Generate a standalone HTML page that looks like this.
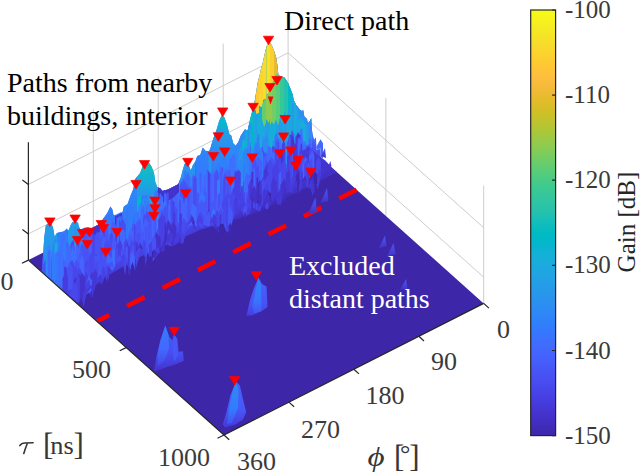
<!DOCTYPE html><html><head><meta charset="utf-8"><style>html,body{margin:0;padding:0;background:#fff;overflow:hidden}svg{display:block}text{font-family:"Liberation Serif",serif}</style></head><body>
<svg width="640" height="473" viewBox="0 0 640 473" font-family="Liberation Serif">
<defs><linearGradient id="gSpk" x1="0" y1="0" x2="0" y2="1"><stop offset="0" stop-color="#4a5af2"/><stop offset="1" stop-color="#4232c4"/></linearGradient><linearGradient id="cb" x1="0" y1="1" x2="0" y2="0"><stop offset="0.0000" stop-color="#3e26a8"/><stop offset="0.0159" stop-color="#402ab4"/><stop offset="0.0317" stop-color="#422ec0"/><stop offset="0.0476" stop-color="#4332cb"/><stop offset="0.0635" stop-color="#4537d5"/><stop offset="0.0794" stop-color="#463cde"/><stop offset="0.0952" stop-color="#4741e5"/><stop offset="0.1111" stop-color="#4747eb"/><stop offset="0.1270" stop-color="#484df0"/><stop offset="0.1429" stop-color="#4852f4"/><stop offset="0.1587" stop-color="#4758f8"/><stop offset="0.1746" stop-color="#465efb"/><stop offset="0.1905" stop-color="#4563fd"/><stop offset="0.2063" stop-color="#4269fe"/><stop offset="0.2222" stop-color="#3e6fff"/><stop offset="0.2381" stop-color="#3875fe"/><stop offset="0.2540" stop-color="#327cfc"/><stop offset="0.2698" stop-color="#2f81fa"/><stop offset="0.2857" stop-color="#2e87f7"/><stop offset="0.3016" stop-color="#2d8cf3"/><stop offset="0.3175" stop-color="#2b91ef"/><stop offset="0.3333" stop-color="#2797eb"/><stop offset="0.3492" stop-color="#259be8"/><stop offset="0.3651" stop-color="#23a0e5"/><stop offset="0.3810" stop-color="#20a5e3"/><stop offset="0.3968" stop-color="#1ca9df"/><stop offset="0.4127" stop-color="#18addb"/><stop offset="0.4286" stop-color="#12b1d6"/><stop offset="0.4444" stop-color="#08b5d0"/><stop offset="0.4603" stop-color="#01b8ca"/><stop offset="0.4762" stop-color="#02bac3"/><stop offset="0.4921" stop-color="#0bbdbd"/><stop offset="0.5079" stop-color="#19bfb6"/><stop offset="0.5238" stop-color="#24c1ae"/><stop offset="0.5397" stop-color="#2cc4a7"/><stop offset="0.5556" stop-color="#31c69f"/><stop offset="0.5714" stop-color="#37c897"/><stop offset="0.5873" stop-color="#3fca8e"/><stop offset="0.6032" stop-color="#4acb84"/><stop offset="0.6190" stop-color="#57cc7a"/><stop offset="0.6349" stop-color="#64cd6f"/><stop offset="0.6508" stop-color="#72cd64"/><stop offset="0.6667" stop-color="#81cc59"/><stop offset="0.6825" stop-color="#8fcb4e"/><stop offset="0.6984" stop-color="#9dc943"/><stop offset="0.7143" stop-color="#abc739"/><stop offset="0.7302" stop-color="#b9c431"/><stop offset="0.7460" stop-color="#c5c22a"/><stop offset="0.7619" stop-color="#d1bf27"/><stop offset="0.7778" stop-color="#dcbd29"/><stop offset="0.7937" stop-color="#e6bb2d"/><stop offset="0.8095" stop-color="#f0ba36"/><stop offset="0.8254" stop-color="#f8ba3d"/><stop offset="0.8413" stop-color="#febe3c"/><stop offset="0.8571" stop-color="#fec338"/><stop offset="0.8730" stop-color="#fec934"/><stop offset="0.8889" stop-color="#fccf30"/><stop offset="0.9048" stop-color="#fad62d"/><stop offset="0.9206" stop-color="#f7dc2a"/><stop offset="0.9365" stop-color="#f5e327"/><stop offset="0.9524" stop-color="#f5e924"/><stop offset="0.9683" stop-color="#f6ef20"/><stop offset="0.9841" stop-color="#f7f51b"/><stop offset="1.0000" stop-color="#f9fb15"/></linearGradient></defs>
<rect width="640" height="473" fill="#fff"/>
<path d="M28.4,184.4 L288.1,52.8 L483.7,227.7 M28.4,233.9 L288.1,102.3 L483.7,277.2 M288.1,128.5 L288.1,10.7 M223.2,161.4 L223.2,43.6 M158.2,194.3 L158.2,76.5 M93.3,227.2 L93.3,109.4 M385.9,215.9 L385.9,98.1 M483.7,303.4 L483.7,185.6" stroke="#cdcdcd" stroke-width="1" fill="none"/>
<polygon points="288.1,128.5 483.7,303.4 224.0,435.0 28.4,260.1" fill="#3e26a8"/>
<defs><linearGradient id="gBand" gradientUnits="userSpaceOnUse" x1="288.10" y1="128.50" x2="398.58" y2="346.52"><stop offset="0.0000" stop-color="#327cfc"/><stop offset="0.0500" stop-color="#4269fe"/><stop offset="0.1000" stop-color="#4758f8"/><stop offset="0.1700" stop-color="#4747eb"/><stop offset="0.2150" stop-color="#4537d5"/><stop offset="0.2500" stop-color="#402ab4"/><stop offset="0.2600" stop-color="#3e26a8"/></linearGradient><linearGradient id="gDark" gradientUnits="userSpaceOnUse" x1="270" y1="0" x2="310" y2="0"><stop offset="0" stop-color="#4332cb" stop-opacity="0"/><stop offset="1" stop-color="#4332cb" stop-opacity="0.85"/></linearGradient><clipPath id="cBand"><polygon points="41.7,272.0 43.2,252.6 44.2,238.0 45.8,225.4 48.3,223.5 51.5,223.5 53.4,229.2 54.6,236.8 56.5,233.6 58.4,232.3 62.3,231.7 64.8,230.4 66.7,228.5 68.6,230.4 70.5,225.4 72.4,222.2 74.9,221.6 78.1,222.8 78.7,226.6 80.6,229.8 83.4,228.0 87.7,227.0 91.9,227.9 94.0,226.9 98.0,224.8 104.7,216.8 107.3,213.0 110.4,206.6 112.3,209.2 113.6,215.5 116.8,214.3 120.6,212.3 122.5,212.4 123.8,206.6 127.6,204.1 130.7,195.2 133.3,188.9 135.0,179.3 140.1,173.0 142.6,166.6 145.1,162.8 149.0,162.8 151.5,166.6 154.0,173.0 155.3,181.9 157.2,187.0 160.4,188.2 162.3,190.7 168.0,189.4 178.1,184.2 180.7,178.1 182.6,170.4 184.5,164.1 187.0,162.2 188.9,165.4 190.8,170.4 192.7,165.4 195.0,161.7 197.3,155.9 200.2,155.0 202.8,147.6 205.3,150.8 209.0,151.3 210.4,148.3 213.5,138.1 216.7,129.3 219.3,120.4 221.8,115.3 224.3,117.2 226.9,124.2 229.4,134.3 231.3,135.6 233.2,143.2 235.7,145.7 238.3,142.0 240.8,135.6 243.4,131.8 245.0,129.3 247.5,131.0 249.5,122.0 251.5,114.0 254.3,103.7 256.0,93.3 257.8,82.0 259.7,75.0 260.9,69.2 262.8,62.8 264.7,54.0 266.6,46.3 269.2,41.9 271.7,45.1 274.3,51.4 276.2,57.8 277.4,65.4 278.4,75.0 281.0,76.5 284.5,77.6 288.0,82.8 290.3,88.6 292.7,94.4 293.8,100.2 296.2,104.9 299.7,109.5 302.0,111.3 303.1,110.1 304.3,116.5 306.6,118.8 308.0,123.0 310.0,121.0 311.2,117.9 311.8,129.3 312.7,135.0 314.0,140.1 315.9,137.5 316.5,150.2 319.0,149.0 320.3,147.7 320.9,157.2 325.4,160.4 329.0,164.5 330.4,161.0 331.5,166.7 331.0,163.1 327.0,179.4 324.3,165.3 321.2,172.5 318.3,187.7 315.0,191.2 312.4,195.3 310.7,188.7 307.0,187.0 304.6,180.9 302.8,182.1 299.3,193.5 295.3,186.8 291.6,193.1 288.0,191.8 284.8,201.2 281.5,201.8 279.6,211.1 277.2,211.6 275.5,195.3 272.6,201.7 270.1,206.0 267.7,209.1 266.0,209.3 263.0,202.5 259.9,211.3 255.9,209.8 252.0,206.8 249.5,213.5 246.7,214.9 244.0,218.1 240.5,210.1 237.6,212.3 235.2,214.0 233.5,216.3 230.0,233.5 226.3,231.2 223.3,223.4 219.7,223.0 217.9,232.9 215.3,227.7 211.4,224.4 209.2,226.3 205.6,225.9 201.6,228.6 199.2,225.3 195.3,229.3 191.6,225.1 188.6,226.7 185.0,235.6 182.9,244.0 178.9,242.5 176.0,244.2 173.5,245.7 169.5,246.1 166.1,239.5 164.4,251.1 160.8,251.7 159.0,253.4 157.3,254.8 153.9,259.7 151.4,262.4 147.4,250.5 145.8,266.0 144.0,249.8 141.4,248.5 138.7,258.0 135.1,271.3 132.9,261.6 131.1,265.0 129.2,276.7 126.7,256.6 125.0,275.9 122.8,258.9 119.4,260.6 115.9,264.1 112.9,270.4 110.3,268.6 107.5,281.8 105.0,274.5 102.6,282.7 100.8,284.9 99.3,278.2 96.5,279.0 94.8,289.9 92.2,297.3 89.0,292.2 85.9,295.1 83.7,307.4 81.0,296.1 78.5,303.5"/></clipPath><linearGradient id="gp0" gradientUnits="userSpaceOnUse" x1="0" y1="223.5" x2="0" y2="262.0"><stop offset="0.000" stop-color="#23a0e5"/><stop offset="0.600" stop-color="#2797eb"/><stop offset="1.000" stop-color="#2d8cf3"/></linearGradient><linearGradient id="gp1" gradientUnits="userSpaceOnUse" x1="0" y1="221.6" x2="0" y2="250.0"><stop offset="0.000" stop-color="#23a0e5"/><stop offset="0.600" stop-color="#2797eb"/><stop offset="1.000" stop-color="#2e87f7"/></linearGradient><linearGradient id="gp2" gradientUnits="userSpaceOnUse" x1="0" y1="206.6" x2="0" y2="236.0"><stop offset="0.000" stop-color="#2f81fa"/><stop offset="0.600" stop-color="#3875fe"/><stop offset="1.000" stop-color="#3e6fff"/></linearGradient><linearGradient id="gp3" gradientUnits="userSpaceOnUse" x1="0" y1="176.8" x2="0" y2="226.0"><stop offset="0.000" stop-color="#2d8cf3"/><stop offset="0.600" stop-color="#2f81fa"/><stop offset="1.000" stop-color="#3875fe"/></linearGradient><linearGradient id="gp4" gradientUnits="userSpaceOnUse" x1="0" y1="162.8" x2="0" y2="200.0"><stop offset="0.000" stop-color="#19bfb6"/><stop offset="0.450" stop-color="#12b1d6"/><stop offset="1.000" stop-color="#2d8cf3"/></linearGradient><linearGradient id="gp5" gradientUnits="userSpaceOnUse" x1="0" y1="161.7" x2="0" y2="202.0"><stop offset="0.000" stop-color="#2797eb"/><stop offset="0.600" stop-color="#2d8cf3"/><stop offset="1.000" stop-color="#327cfc"/></linearGradient><linearGradient id="gp6" gradientUnits="userSpaceOnUse" x1="0" y1="143.0" x2="0" y2="186.0"><stop offset="0.000" stop-color="#2e87f7"/><stop offset="0.600" stop-color="#327cfc"/><stop offset="1.000" stop-color="#3875fe"/></linearGradient><linearGradient id="gp7" gradientUnits="userSpaceOnUse" x1="0" y1="115.3" x2="0" y2="172.0"><stop offset="0.000" stop-color="#0bbdbd"/><stop offset="0.150" stop-color="#08b5d0"/><stop offset="0.350" stop-color="#259be8"/><stop offset="0.600" stop-color="#2d8cf3"/><stop offset="1.000" stop-color="#327cfc"/></linearGradient><linearGradient id="gp8" gradientUnits="userSpaceOnUse" x1="0" y1="124.2" x2="0" y2="168.0"><stop offset="0.000" stop-color="#2b91ef"/><stop offset="0.600" stop-color="#2e87f7"/><stop offset="1.000" stop-color="#327cfc"/></linearGradient><linearGradient id="gp9" gradientUnits="userSpaceOnUse" x1="0" y1="100.6" x2="0" y2="150.0"><stop offset="0.000" stop-color="#2f81fa"/><stop offset="0.600" stop-color="#3875fe"/><stop offset="1.000" stop-color="#4563fd"/></linearGradient><clipPath id="cMain"><polygon points="242.0,133.8 243.4,131.8 245.0,129.3 247.5,131.0 249.5,122.0 251.5,114.0 254.3,103.7 256.0,93.3 257.8,82.0 259.7,75.0 260.9,69.2 262.8,62.8 264.7,54.0 266.6,46.3 269.2,41.9 271.7,45.1 274.3,51.4 276.2,57.8 277.4,65.4 278.4,75.0 281.0,76.5 284.5,77.6 288.0,82.8 290.3,88.6 292.7,94.4 293.8,100.2 296.2,104.9 299.7,109.5 302.0,111.3 303.1,110.1 304.3,116.5 306.6,118.8 308.0,123.0 310.0,121.0 311.2,117.9 311.8,129.3 312.0,130.6 312.0,200.0 242.0,200.0"/></clipPath><linearGradient id="giA1" gradientUnits="userSpaceOnUse" x1="0" y1="278.0" x2="0" y2="316.0"><stop offset="0.000" stop-color="#4563fd"/><stop offset="0.700" stop-color="#4852f4"/><stop offset="1.000" stop-color="#463cde"/></linearGradient><linearGradient id="giA2" gradientUnits="userSpaceOnUse" x1="0" y1="278.0" x2="0" y2="316.0"><stop offset="0.000" stop-color="#2e87f7"/><stop offset="0.600" stop-color="#3875fe"/><stop offset="1.000" stop-color="#484df0"/></linearGradient><linearGradient id="giB1" gradientUnits="userSpaceOnUse" x1="0" y1="326.0" x2="0" y2="372.0"><stop offset="0.000" stop-color="#465efb"/><stop offset="0.600" stop-color="#484df0"/><stop offset="1.000" stop-color="#4332cb"/></linearGradient><linearGradient id="giB2" gradientUnits="userSpaceOnUse" x1="0" y1="326.0" x2="0" y2="372.0"><stop offset="0.000" stop-color="#327cfc"/><stop offset="0.500" stop-color="#4269fe"/><stop offset="1.000" stop-color="#463cde"/></linearGradient><linearGradient id="giC1" gradientUnits="userSpaceOnUse" x1="0" y1="381.0" x2="0" y2="428.0"><stop offset="0.000" stop-color="#4563fd"/><stop offset="0.600" stop-color="#4758f8"/><stop offset="1.000" stop-color="#4537d5"/></linearGradient><linearGradient id="giC2" gradientUnits="userSpaceOnUse" x1="0" y1="381.0" x2="0" y2="428.0"><stop offset="0.000" stop-color="#2d8cf3"/><stop offset="0.600" stop-color="#327cfc"/><stop offset="1.000" stop-color="#4747eb"/></linearGradient></defs><polygon points="41.7,272.0 43.2,252.6 44.2,238.0 45.8,225.4 48.3,223.5 51.5,223.5 53.4,229.2 54.6,236.8 56.5,233.6 58.4,232.3 62.3,231.7 64.8,230.4 66.7,228.5 68.6,230.4 70.5,225.4 72.4,222.2 74.9,221.6 78.1,222.8 78.7,226.6 80.6,229.8 83.4,228.0 87.7,227.0 91.9,227.9 94.0,226.9 98.0,224.8 104.7,216.8 107.3,213.0 110.4,206.6 112.3,209.2 113.6,215.5 116.8,214.3 120.6,212.3 122.5,212.4 123.8,206.6 127.6,204.1 130.7,195.2 133.3,188.9 135.0,179.3 140.1,173.0 142.6,166.6 145.1,162.8 149.0,162.8 151.5,166.6 154.0,173.0 155.3,181.9 157.2,187.0 160.4,188.2 162.3,190.7 168.0,189.4 178.1,184.2 180.7,178.1 182.6,170.4 184.5,164.1 187.0,162.2 188.9,165.4 190.8,170.4 192.7,165.4 195.0,161.7 197.3,155.9 200.2,155.0 202.8,147.6 205.3,150.8 209.0,151.3 210.4,148.3 213.5,138.1 216.7,129.3 219.3,120.4 221.8,115.3 224.3,117.2 226.9,124.2 229.4,134.3 231.3,135.6 233.2,143.2 235.7,145.7 238.3,142.0 240.8,135.6 243.4,131.8 245.0,129.3 247.5,131.0 249.5,122.0 251.5,114.0 254.3,103.7 256.0,93.3 257.8,82.0 259.7,75.0 260.9,69.2 262.8,62.8 264.7,54.0 266.6,46.3 269.2,41.9 271.7,45.1 274.3,51.4 276.2,57.8 277.4,65.4 278.4,75.0 281.0,76.5 284.5,77.6 288.0,82.8 290.3,88.6 292.7,94.4 293.8,100.2 296.2,104.9 299.7,109.5 302.0,111.3 303.1,110.1 304.3,116.5 306.6,118.8 308.0,123.0 310.0,121.0 311.2,117.9 311.8,129.3 312.7,135.0 314.0,140.1 315.9,137.5 316.5,150.2 319.0,149.0 320.3,147.7 320.9,157.2 325.4,160.4 329.0,164.5 330.4,161.0 331.5,166.7 331.0,166.5 327.0,171.0 300.0,191.0 260.0,212.0 200.0,230.0 165.0,246.0 140.0,257.0 107.0,276.0 90.0,290.0 78.5,303.5" fill="url(#gBand)"/><polygon points="272.2,174.9 281.8,148.1 299.8,139.0 337.0,172.2 293.7,194.2" fill="url(#gDark)"/><g clip-path="url(#cBand)"><polygon points="85.9,254.6 85.9,235.6 87.6,229.2 91.2,234.0 91.2,254.6" fill="#463cde"/><polygon points="145.9,215.5 145.9,173.3 147.5,165.8 152.2,171.4 152.2,215.5" fill="#1ca9df"/><polygon points="60.7,251.7 60.7,238.8 63.0,233.3 65.3,237.4 65.3,251.7" fill="#3875fe"/><polygon points="273.3,161.5 273.3,122.9 275.9,116.2 278.9,121.3 278.9,161.5" fill="#2797eb"/><polygon points="222.5,171.0 222.5,144.8 224.5,140.2 226.3,143.6 226.3,171.0" fill="#2f81fa"/><polygon points="150.2,212.7 150.2,175.7 152.2,171.0 154.2,174.5 154.2,212.7" fill="#2797eb"/><polygon points="249.2,157.5 249.2,130.8 250.3,127.6 251.9,130.0 251.9,157.5" fill="#2f81fa"/><polygon points="228.7,183.2 228.7,140.3 230.1,136.8 231.6,139.4 231.6,183.2" fill="#3875fe"/><polygon points="229.0,167.5 229.0,138.9 230.3,136.7 230.9,138.4 230.9,167.5" fill="#3875fe"/><polygon points="207.9,181.2 207.9,156.1 210.4,152.0 211.3,155.0 211.3,181.2" fill="#2e87f7"/><polygon points="236.3,165.5 236.3,148.7 239.2,142.8 241.2,147.3 241.2,165.5" fill="#4852f4"/><polygon points="75.8,249.1 75.8,231.1 78.7,225.3 80.6,229.7 80.6,249.1" fill="#4852f4"/><polygon points="66.6,253.7 66.6,233.7 67.6,231.3 68.5,233.1 68.5,253.7" fill="#4563fd"/><polygon points="54.9,260.6 54.9,239.6 57.0,235.6 58.2,238.6 58.2,260.6" fill="#3e6fff"/><polygon points="194.5,182.8 194.5,165.3 197.3,157.8 200.8,163.5 200.8,182.8" fill="#2f81fa"/><polygon points="244.0,168.7 244.0,135.7 245.3,131.8 247.3,134.7 247.3,168.7" fill="#327cfc"/><polygon points="252.7,161.1 252.7,134.9 253.4,131.2 255.8,134.0 255.8,161.1" fill="#327cfc"/><polygon points="139.9,220.0 139.9,176.6 140.9,174.1 142.0,176.0 142.0,220.0" fill="#20a5e3"/><polygon points="237.8,181.2 237.8,146.6 241.7,139.3 243.9,144.8 243.9,181.2" fill="#4563fd"/><polygon points="240.6,167.8 240.6,145.1 242.0,142.6 242.7,144.5 242.7,167.8" fill="#4563fd"/><polygon points="259.8,153.9 259.8,139.9 260.9,135.8 263.1,138.8 263.1,153.9" fill="#4269fe"/><polygon points="268.7,158.7 268.7,121.9 270.2,118.0 271.9,120.9 271.9,158.7" fill="#20a5e3"/><polygon points="62.6,267.5 62.6,236.9 65.3,232.6 66.3,235.8 66.3,267.5" fill="#3e6fff"/><polygon points="68.5,262.6 68.5,232.5 69.3,229.5 70.9,231.7 70.9,262.6" fill="#3e6fff"/><polygon points="286.7,149.8 286.7,123.8 288.9,119.8 290.1,122.8 290.1,149.8" fill="#4563fd"/><polygon points="237.3,181.5 237.3,146.4 239.2,142.9 240.2,145.6 240.2,181.5" fill="#4269fe"/><polygon points="276.3,143.8 276.3,132.2 278.4,124.6 282.7,130.3 282.7,143.8" fill="#2f81fa"/><polygon points="144.5,227.4 144.5,176.3 147.9,169.7 150.0,174.6 150.0,227.4" fill="#20a5e3"/><polygon points="188.0,202.2 188.0,178.6 189.8,172.1 193.4,176.9 193.4,202.2" fill="#4852f4"/><polygon points="231.1,178.2 231.1,153.9 234.6,146.3 237.5,152.0 237.5,178.2" fill="#4563fd"/><polygon points="248.1,174.5 248.1,137.2 253.0,129.7 254.4,135.3 254.4,174.5" fill="#2d8cf3"/><polygon points="282.9,144.5 282.9,130.1 285.6,123.7 288.2,128.5 288.2,144.5" fill="#4852f4"/><polygon points="211.9,177.9 211.9,160.6 213.6,155.2 216.4,159.2 216.4,177.9" fill="#4269fe"/><polygon points="267.0,154.8 267.0,133.2 269.4,127.6 271.6,131.8 271.6,154.8" fill="#3875fe"/><polygon points="131.6,236.0 131.6,194.8 133.3,190.7 135.0,193.7 135.0,236.0" fill="#2e87f7"/><polygon points="154.1,213.0 154.1,187.4 154.9,184.3 156.7,186.6 156.7,213.0" fill="#2f81fa"/><polygon points="147.4,229.2 147.4,187.6 149.9,181.8 152.3,186.2 152.3,229.2" fill="#2d8cf3"/><polygon points="241.6,181.7 241.6,142.3 242.5,137.7 245.4,141.2 245.4,181.7" fill="#3e6fff"/><polygon points="80.7,245.2 80.7,235.7 84.3,230.2 85.3,234.4 85.3,245.2" fill="#3875fe"/><polygon points="217.5,183.0 217.5,149.1 221.8,141.6 223.8,147.2 223.8,183.0" fill="#20a5e3"/><polygon points="203.7,201.3 203.7,155.4 204.8,152.3 206.2,154.6 206.2,201.3" fill="#18addb"/><polygon points="143.0,226.3 143.0,195.2 144.4,189.8 147.5,193.9 147.5,226.3" fill="#3875fe"/><polygon points="257.3,155.4 257.3,138.1 259.4,132.7 261.8,136.7 261.8,155.4" fill="#3875fe"/><polygon points="192.4,187.8 192.4,170.0 194.8,163.6 197.7,168.4 197.7,187.8" fill="#4269fe"/><polygon points="73.7,261.5 73.7,227.5 75.8,223.8 76.9,226.6 76.9,261.5" fill="#327cfc"/><polygon points="92.8,244.6 92.8,234.8 95.9,228.2 98.3,233.2 98.3,244.6" fill="#4741e5"/><polygon points="206.3,184.4 206.3,157.0 208.3,153.1 209.5,156.0 209.5,184.4" fill="#2e87f7"/><polygon points="274.0,159.3 274.0,130.9 274.6,127.9 276.5,130.2 276.5,159.3" fill="#4563fd"/><polygon points="40.0,283.6 40.0,261.2 43.0,254.9 45.2,259.6 45.2,283.6" fill="#4852f4"/><polygon points="197.2,203.1 197.2,163.0 200.7,157.2 202.1,161.5 202.1,203.1" fill="#2f81fa"/><polygon points="46.1,269.4 46.1,235.2 49.8,229.4 50.9,233.7 50.9,269.4" fill="#23a0e5"/><polygon points="133.1,239.6 133.1,192.7 135.8,187.3 137.6,191.3 137.6,239.6" fill="#12b1d6"/><polygon points="253.4,174.3 253.4,132.0 254.2,128.3 256.5,131.1 256.5,174.3" fill="#259be8"/><polygon points="102.0,254.3 102.0,223.8 103.8,220.4 104.8,223.0 104.8,254.3" fill="#484df0"/><polygon points="190.0,201.9 190.0,174.2 191.1,172.4 191.6,173.8 191.6,201.9" fill="#465efb"/><polygon points="239.7,181.2 239.7,152.1 241.7,148.4 242.8,151.2 242.8,181.2" fill="#4563fd"/><polygon points="99.4,251.2 99.4,227.1 101.2,223.3 102.6,226.2 102.6,251.2" fill="#4741e5"/><polygon points="248.1,164.9 248.1,149.3 250.0,144.8 251.9,148.2 251.9,164.9" fill="#4758f8"/><polygon points="71.8,263.5 71.8,229.0 73.1,223.8 76.2,227.7 76.2,263.5" fill="#2d8cf3"/><polygon points="289.1,141.4 289.1,133.4 292.9,126.4 295.0,131.7 295.0,141.4" fill="#4747eb"/><polygon points="126.0,242.9 126.0,209.5 129.0,203.2 131.3,207.9 131.3,242.9" fill="#327cfc"/><polygon points="92.6,256.2 92.6,235.4 96.3,228.2 98.6,233.6 98.6,256.2" fill="#4747eb"/><polygon points="269.1,156.1 269.1,142.9 271.8,135.2 275.5,140.9 275.5,156.1" fill="#4758f8"/><polygon points="52.7,275.3 52.7,244.1 56.1,237.1 58.5,242.3 58.5,275.3" fill="#327cfc"/><polygon points="206.9,196.1 206.9,158.4 209.9,153.2 211.3,157.1 211.3,196.1" fill="#2b91ef"/><polygon points="203.2,191.5 203.2,161.6 204.8,156.9 207.2,160.4 207.2,191.5" fill="#327cfc"/><polygon points="276.6,155.8 276.6,135.3 278.6,127.9 282.8,133.5 282.8,155.8" fill="#3e6fff"/><polygon points="255.7,178.7 255.7,139.5 256.6,137.1 257.7,138.9 257.7,178.7" fill="#2e87f7"/><polygon points="132.6,240.1 132.6,201.9 133.9,194.8 138.6,200.2 138.6,240.1" fill="#2f81fa"/><polygon points="112.8,240.7 112.8,219.7 113.2,217.5 114.6,219.1 114.6,240.7" fill="#4758f8"/><polygon points="62.6,260.9 62.6,237.3 63.7,233.9 65.4,236.5 65.4,260.9" fill="#3e6fff"/><polygon points="121.5,246.3 121.5,216.2 123.1,212.8 124.3,215.3 124.3,246.3" fill="#4269fe"/><polygon points="86.3,245.9 86.3,232.0 86.9,229.0 88.8,231.3 88.8,245.9" fill="#4758f8"/><polygon points="51.5,272.1 51.5,247.8 53.1,245.2 53.8,247.2 53.8,272.1" fill="#4758f8"/><polygon points="117.8,245.7 117.8,222.3 121.9,214.5 124.3,220.3 124.3,245.7" fill="#4758f8"/><polygon points="237.7,187.3 237.7,156.2 239.1,153.2 240.2,155.5 240.2,187.3" fill="#465efb"/><polygon points="139.0,230.0 139.0,200.3 141.6,196.1 142.6,199.3 142.6,230.0" fill="#3875fe"/><polygon points="133.6,229.6 133.6,189.4 134.5,184.6 137.7,188.2 137.7,229.6" fill="#18addb"/><polygon points="228.7,180.7 228.7,158.1 229.8,154.6 231.6,157.2 231.6,180.7" fill="#3875fe"/><polygon points="264.4,176.3 264.4,133.0 265.5,131.0 266.1,132.5 266.1,176.3" fill="#2d8cf3"/><polygon points="268.5,153.3 268.5,132.5 270.4,124.8 275.0,130.6 275.0,153.3" fill="#1ca9df"/><polygon points="77.0,266.8 77.0,235.0 79.2,231.6 79.8,234.1 79.8,266.8" fill="#4269fe"/><polygon points="252.4,166.2 252.4,141.8 254.7,137.8 255.7,140.8 255.7,166.2" fill="#2d8cf3"/><polygon points="269.6,163.6 269.6,135.5 271.3,132.8 271.8,134.9 271.8,163.6" fill="#327cfc"/><polygon points="208.6,185.0 208.6,159.3 210.9,153.4 213.5,157.9 213.5,185.0" fill="#2d8cf3"/><polygon points="136.6,228.9 136.6,186.8 138.6,181.4 141.1,185.5 141.1,228.9" fill="#01b8ca"/><polygon points="289.5,149.7 289.5,123.4 290.3,121.5 291.1,122.9 291.1,149.7" fill="#465efb"/><polygon points="264.5,156.8 264.5,136.3 266.9,131.5 268.6,135.1 268.6,156.8" fill="#327cfc"/><polygon points="236.3,181.6 236.3,154.2 237.5,149.3 240.4,153.0 240.4,181.6" fill="#2f81fa"/><polygon points="113.7,245.5 113.7,219.3 114.9,217.1 115.6,218.8 115.6,245.5" fill="#465efb"/><polygon points="258.1,161.2 258.1,140.0 259.6,135.3 262.1,138.8 262.1,161.2" fill="#3e6fff"/><polygon points="112.7,244.0 112.7,221.9 114.0,217.1 116.6,220.7 116.6,244.0" fill="#327cfc"/><polygon points="259.7,180.0 259.7,136.0 260.9,133.9 261.4,135.4 261.4,180.0" fill="#327cfc"/><polygon points="114.1,248.6 114.1,222.1 116.5,216.4 118.9,220.7 118.9,248.6" fill="#465efb"/><polygon points="208.2,203.6 208.2,164.9 210.0,161.6 210.9,164.1 210.9,203.6" fill="#3e6fff"/><polygon points="245.9,171.9 245.9,146.7 247.0,144.7 247.6,146.2 247.6,171.9" fill="#23a0e5"/><polygon points="245.4,170.6 245.4,145.3 248.1,139.9 249.9,143.9 249.9,170.6" fill="#2d8cf3"/><polygon points="250.7,165.7 250.7,137.6 252.2,135.2 252.7,137.0 252.7,165.7" fill="#259be8"/><polygon points="286.8,148.3 286.8,128.9 288.1,126.4 288.8,128.3 288.8,148.3" fill="#4563fd"/><polygon points="110.9,242.3 110.9,217.7 112.7,214.1 113.8,216.8 113.8,242.3" fill="#4269fe"/><polygon points="109.7,236.5 109.7,220.8 111.1,213.4 115.8,218.9 115.8,236.5" fill="#4269fe"/><polygon points="231.4,186.4 231.4,152.6 235.6,146.1 236.8,151.0 236.8,186.4" fill="#23a0e5"/><polygon points="47.7,279.5 47.7,251.5 49.3,247.8 50.8,250.6 50.8,279.5" fill="#3e6fff"/><polygon points="66.2,261.7 66.2,238.1 69.3,231.0 72.1,236.3 72.1,261.7" fill="#327cfc"/><polygon points="239.8,181.5 239.8,153.9 240.8,151.4 241.9,153.3 241.9,181.5" fill="#327cfc"/><polygon points="256.9,165.8 256.9,140.5 258.7,137.9 259.1,139.9 259.1,165.8" fill="#2f81fa"/><polygon points="218.8,198.5 218.8,167.0 222.6,160.2 224.5,165.3 224.5,198.5" fill="#3e6fff"/><polygon points="103.6,243.5 103.6,223.3 104.9,215.9 109.8,221.4 109.8,243.5" fill="#4563fd"/><polygon points="182.2,220.1 182.2,177.5 185.5,170.7 187.9,175.8 187.9,220.1" fill="#1ca9df"/><polygon points="263.7,171.0 263.7,137.1 265.5,134.3 266.0,136.4 266.0,171.0" fill="#2b91ef"/><polygon points="283.3,168.3 283.3,135.3 286.7,128.2 289.2,133.5 289.2,168.3" fill="#2d8cf3"/><polygon points="98.1,260.6 98.1,229.2 100.3,224.4 102.1,228.0 102.1,260.6" fill="#465efb"/></g><polygon points="157.2,187.0 160.4,188.2 162.3,190.7 168.0,189.5 178.1,184.3 180.7,178.1 181.0,190.0 172.0,199.0 162.0,203.0 157.0,196.0" fill="#4332cb"/><polygon points="86.0,230.7 94.0,227.0 98.0,225.0 104.0,222.0 113.6,217.2 122.5,212.7 128.0,209.9 128.0,216.0 118.0,224.0 108.0,228.0 98.0,233.0 88.0,238.0" fill="#4332cb"/><polygon points="43.5,248.7 44.2,238.0 45.8,225.4 48.3,223.5 51.5,223.5 53.4,229.2 54.6,236.8 56.5,233.6 57.0,233.3 57.0,254.2 53.7,257.7 51.5,256.9 49.5,261.1 45.8,258.0 43.6,264.6 43.5,262.0" fill="url(#gp0)"/><polygon points="68.0,229.8 68.6,230.4 70.5,225.4 72.4,222.2 74.9,221.6 78.1,222.8 78.7,226.6 80.6,229.8 82.0,228.9 82.0,246.7 79.8,249.2 76.6,244.3 73.9,249.7 71.6,246.0 68.8,245.9 68.0,250.0" fill="url(#gp1)"/><polygon points="103.0,218.9 104.7,216.8 107.3,213.0 110.4,206.6 112.3,209.2 113.6,215.5 115.0,215.0 115.0,228.9 112.5,235.4 108.5,233.3 105.0,237.9 103.0,236.0" fill="url(#gp2)"/><polygon points="122.0,212.7 122.5,212.4 123.8,206.6 127.6,204.1 130.7,195.2 133.3,188.9 135.0,179.3 137.0,176.8 137.0,219.8 133.5,226.1 129.9,220.2 126.1,227.0 122.9,222.1 122.0,226.0" fill="url(#gp3)"/><polygon points="137.0,176.8 140.1,173.0 142.6,166.6 145.1,162.8 149.0,162.8 151.5,166.6 154.0,173.0 155.3,181.9 157.2,187.0 158.0,187.3 158.0,190.1 154.9,195.7 152.8,198.2 150.0,193.4 146.8,195.3 144.5,195.5 140.8,195.7 138.5,196.7 137.0,200.0" fill="url(#gp4)"/><polygon points="179.0,182.2 180.7,178.1 182.6,170.4 184.5,164.1 187.0,162.2 188.9,165.4 190.8,170.4 192.7,165.4 195.0,161.7 195.0,199.4 192.2,195.9 190.3,202.6 187.1,196.5 183.7,203.5 181.5,204.9 179.3,201.5 179.0,202.0" fill="url(#gp5)"/><polygon points="196.0,159.2 197.3,155.9 200.2,155.0 202.8,147.6 205.3,150.8 209.0,151.3 210.4,148.3 212.0,143.0 212.0,185.7 209.0,184.6 205.5,181.9 202.6,184.0 200.0,182.6 197.8,189.5 196.0,186.0" fill="url(#gp6)"/><polygon points="211.0,146.3 213.5,138.1 216.7,129.3 219.3,120.4 221.8,115.3 224.3,117.2 226.9,124.2 229.4,134.3 231.3,135.6 233.2,143.2 235.0,145.0 235.0,163.3 230.8,165.8 227.2,167.7 224.3,168.1 222.4,169.3 220.0,173.1 216.7,168.8 212.8,172.2 211.0,172.0" fill="url(#gp7)"/><polygon points="235.0,145.0 235.7,145.7 238.3,142.0 240.8,135.6 243.4,131.8 245.0,129.3 247.5,131.0 249.0,124.2 249.0,163.9 245.4,161.3 241.6,167.1 237.9,168.7 235.6,171.6 235.0,168.0" fill="url(#gp8)"/><polygon points="294.0,100.6 296.2,104.9 299.7,109.5 302.0,111.3 303.1,110.1 304.3,116.5 306.6,118.8 308.0,123.0 310.0,121.0 311.2,117.9 311.8,129.3 312.7,135.0 314.0,140.1 315.9,137.5 316.5,150.2 319.0,149.0 320.3,147.7 320.9,157.2 323.0,158.7 323.0,143.3 320.5,139.3 316.6,146.2 313.1,140.6 310.6,144.6 308.8,143.6 305.7,149.4 302.2,150.3 299.9,150.9 297.6,146.8 294.2,147.9 294.0,150.0" fill="url(#gp9)"/><g clip-path="url(#cMain)"><polygon points="242.0,40.0 312.0,40.0 312.0,141.1 310.4,122.7 308.7,141.4 305.9,121.7 304.1,147.2 301.2,125.3 298.6,145.2 297.1,123.8 294.7,151.8 293.0,124.8 291.0,149.7 289.0,136.8 286.9,156.0 284.5,141.7 282.1,158.6 280.0,135.3 278.2,152.0 276.2,139.8 273.3,153.4 271.3,130.8 269.0,152.9 266.0,135.9 263.9,153.1 261.7,139.7 260.0,154.6 258.0,130.2 256.5,149.7 254.5,127.7 252.1,148.2 250.1,131.7 247.8,151.4 246.0,126.7 243.4,154.1 241.6,123.3" fill="#2b91ef"/><polygon points="242.0,151.0 242.0,142.0 243.7,138.5 245.5,142.0 245.5,151.0" fill="#12b1d6"/><polygon points="245.4,148.2 245.4,132.4 246.3,130.6 247.2,132.4 247.2,148.2" fill="#18addb"/><polygon points="246.6,130.9 246.6,131.3 248.1,128.2 249.7,131.3 249.7,130.9" fill="#08b5d0"/><polygon points="249.4,142.2 249.4,130.9 250.7,128.2 252.0,130.9 252.0,142.2" fill="#20a5e3"/><polygon points="251.3,147.7 251.3,116.4 252.8,113.6 254.2,116.4 254.2,147.7" fill="#01b8ca"/><polygon points="253.8,142.7 253.8,107.8 254.8,105.7 255.8,107.8 255.8,142.7" fill="#1ca9df"/><polygon points="255.3,137.1 255.3,100.5 256.3,98.7 257.2,100.5 257.2,137.1" fill="#23a0e5"/><polygon points="257.2,134.0 257.2,99.1 258.7,96.0 260.3,99.1 260.3,134.0" fill="#12b1d6"/><polygon points="259.9,147.2 259.9,81.7 261.0,79.4 262.2,81.7 262.2,147.2" fill="#18addb"/><polygon points="261.7,136.6 261.7,69.5 262.9,67.3 264.0,69.5 264.0,136.6" fill="#1ca9df"/><polygon points="263.5,155.0 263.5,57.9 264.5,55.8 265.6,57.9 265.6,155.0" fill="#20a5e3"/><polygon points="265.5,133.6 265.5,51.6 267.2,48.3 268.8,51.6 268.8,133.6" fill="#23a0e5"/><polygon points="267.5,147.8 267.5,56.2 268.6,54.0 269.7,56.2 269.7,147.8" fill="#23a0e5"/><polygon points="269.3,147.6 269.3,59.8 270.7,56.9 272.2,59.8 272.2,147.6" fill="#12b1d6"/><polygon points="271.1,141.4 271.1,61.2 272.1,59.2 273.1,61.2 273.1,141.4" fill="#18addb"/><polygon points="272.9,141.1 272.9,67.9 274.5,64.8 276.0,67.9 276.0,141.1" fill="#12b1d6"/><polygon points="275.6,139.3 275.6,79.8 276.9,77.2 278.2,79.8 278.2,139.3" fill="#23a0e5"/><polygon points="277.8,138.2 277.8,82.6 279.5,79.1 281.3,82.6 281.3,138.2" fill="#259be8"/><polygon points="280.8,140.5 280.8,88.1 282.1,85.4 283.4,88.1 283.4,140.5" fill="#23a0e5"/><polygon points="283.0,135.1 283.0,88.1 284.0,86.1 285.0,88.1 285.0,135.1" fill="#20a5e3"/><polygon points="284.6,153.0 284.6,87.8 285.9,85.3 287.1,87.8 287.1,153.0" fill="#259be8"/><polygon points="286.6,141.7 286.6,93.7 288.4,90.3 290.1,93.7 290.1,141.7" fill="#1ca9df"/><polygon points="289.4,134.9 289.4,109.3 291.0,106.1 292.5,109.3 292.5,134.9" fill="#20a5e3"/><polygon points="291.9,132.2 291.9,110.8 293.1,108.2 294.4,110.8 294.4,132.2" fill="#259be8"/><polygon points="293.7,133.9 293.7,110.6 294.9,108.1 296.2,110.6 296.2,133.9" fill="#12b1d6"/><polygon points="295.8,141.5 295.8,110.0 297.0,107.7 298.1,110.0 298.1,141.5" fill="#20a5e3"/><polygon points="297.7,144.7 297.7,120.9 298.7,119.1 299.6,120.9 299.6,144.7" fill="#20a5e3"/><polygon points="299.4,129.1 299.4,119.4 300.6,117.0 301.8,119.4 301.8,129.1" fill="#1ca9df"/><polygon points="301.5,128.6 301.5,122.2 302.9,119.5 304.2,122.2 304.2,128.6" fill="#18addb"/><polygon points="303.2,141.3 303.2,125.1 304.6,122.3 306.0,125.1 306.0,141.3" fill="#18addb"/><polygon points="305.5,144.8 305.5,126.8 307.0,123.8 308.5,126.8 308.5,144.8" fill="#259be8"/><polygon points="308.4,135.1 308.4,129.5 309.3,127.7 310.2,129.5 310.2,135.1" fill="#2b91ef"/><polygon points="309.5,138.8 309.5,134.2 310.7,131.8 311.8,134.2 311.8,138.8" fill="#2b91ef"/><polygon points="311.5,131.4 311.5,153.6 313.1,150.3 314.7,153.6 314.7,131.4" fill="#259be8"/><polygon points="250.0,30.0 253.5,30.0 253.5,122.7 250.0,124.0" fill="#0bbdbd"/><polygon points="253.5,30.0 256.0,30.0 256.0,110.4 253.5,110.0" fill="#e6bb2d"/><polygon points="256.0,30.0 259.0,30.0 259.0,112.8 256.0,114.0" fill="#fec934"/><polygon points="259.0,30.0 263.0,30.0 263.0,107.2 259.0,106.0" fill="#fad62d"/><polygon points="263.0,30.0 266.5,30.0 266.5,98.5 263.0,100.0" fill="#f7dc2a"/><polygon points="266.5,30.0 270.0,30.0 270.0,94.7 266.5,94.0" fill="#f5e327"/><polygon points="270.0,30.0 274.0,30.0 274.0,84.3 270.0,86.0" fill="#fccf30"/><polygon points="274.0,30.0 279.0,30.0 279.0,81.1 274.0,80.0" fill="#e6bb2d"/><polygon points="262.0,104.0 266.0,98.0 266.0,123.1 264.0,127.1 262.0,119.4" fill="#64cd6f"/><polygon points="266.0,98.0 269.0,90.8 269.0,123.4 267.5,121.1 266.0,119.1" fill="#8fcb4e"/><polygon points="269.0,90.8 272.0,83.6 272.0,120.3 270.5,125.1 269.0,118.4" fill="#8fcb4e"/><polygon points="272.0,83.6 276.0,74.0 276.0,118.9 274.0,124.8 272.0,122.0" fill="#72cd64"/><polygon points="276.0,74.0 280.0,74.0 280.0,117.6 278.0,125.4 276.0,119.4" fill="#57cc7a"/><polygon points="280.0,74.0 284.0,75.5 284.0,117.9 282.0,122.7 280.0,114.8" fill="#37c897"/><polygon points="284.0,75.5 288.0,78.5 288.0,114.1 286.0,115.9 284.0,110.3" fill="#24c1ae"/><polygon points="288.0,78.5 292.0,83.3 292.0,109.4 290.0,113.7 288.0,104.4" fill="#02bac3"/><polygon points="292.0,83.3 297.0,90.0 297.0,105.7 294.5,111.6 292.0,100.3" fill="#18addb"/></g><g clip-path="url(#cBand)"><polygon points="238.7,191.8 238.7,151.5 240.6,146.4 242.9,150.2 242.9,191.8" fill="#2797eb"/><polygon points="57.1,273.9 57.1,237.5 58.7,234.3 59.8,236.7 59.8,273.9" fill="#2f81fa"/><polygon points="127.8,241.9 127.8,208.8 129.5,203.5 132.2,207.5 132.2,241.9" fill="#2f81fa"/><polygon points="64.7,279.6 64.7,234.0 66.0,231.5 66.8,233.3 66.8,279.6" fill="#327cfc"/><polygon points="74.4,268.5 74.4,227.7 75.1,225.2 76.5,227.0 76.5,268.5" fill="#2b91ef"/><polygon points="117.7,247.5 117.7,219.1 120.0,214.9 121.2,218.0 121.2,247.5" fill="#4269fe"/><polygon points="274.5,168.6 274.5,136.1 276.8,132.3 277.7,135.2 277.7,168.6" fill="#3875fe"/><polygon points="236.9,194.7 236.9,153.0 238.2,150.9 238.7,152.5 238.7,194.7" fill="#2d8cf3"/><polygon points="227.8,181.4 227.8,167.4 229.5,160.0 234.0,165.6 234.0,181.4" fill="#327cfc"/><polygon points="244.3,192.0 244.3,148.7 244.8,146.7 245.9,148.2 245.9,192.0" fill="#2e87f7"/><polygon points="288.4,166.0 288.4,139.5 291.2,134.3 292.7,138.2 292.7,166.0" fill="#4852f4"/><polygon points="221.1,187.4 221.1,163.0 223.9,155.4 227.5,161.1 227.5,187.4" fill="#2f81fa"/><polygon points="217.1,197.6 217.1,166.5 219.2,161.7 221.1,165.3 221.1,197.6" fill="#327cfc"/><polygon points="143.7,235.4 143.7,201.3 144.7,196.7 147.5,200.2 147.5,235.4" fill="#2d8cf3"/><polygon points="252.4,178.2 252.4,157.1 254.7,153.3 255.6,156.2 255.6,178.2" fill="#4758f8"/><polygon points="94.8,254.6 94.8,238.5 97.1,231.2 100.9,236.7 100.9,254.6" fill="#4852f4"/><polygon points="46.0,280.1 46.0,249.5 49.1,243.9 50.6,248.1 50.6,280.1" fill="#2d8cf3"/><polygon points="78.2,265.5 78.2,238.7 80.9,231.5 84.2,236.9 84.2,265.5" fill="#4269fe"/><polygon points="138.0,228.0 138.0,207.7 140.7,202.6 142.2,206.4 142.2,228.0" fill="#2e87f7"/><polygon points="250.7,171.9 250.7,161.6 254.3,154.0 257.0,159.7 257.0,171.9" fill="#4563fd"/><polygon points="51.8,269.5 51.8,252.5 53.8,247.5 56.0,251.3 56.0,269.5" fill="#3e6fff"/><polygon points="100.0,260.7 100.0,227.9 101.1,224.9 102.5,227.1 102.5,260.7" fill="#4563fd"/><polygon points="154.2,222.6 154.2,192.5 156.3,189.1 157.1,191.6 157.1,222.6" fill="#2f81fa"/><polygon points="208.6,197.7 208.6,156.7 209.3,153.4 211.3,155.8 211.3,197.7" fill="#2797eb"/><polygon points="219.7,204.1 219.7,171.5 222.7,166.7 223.7,170.3 223.7,204.1" fill="#4852f4"/><polygon points="275.3,170.3 275.3,141.6 277.5,137.2 278.9,140.5 278.9,170.3" fill="#465efb"/><polygon points="229.4,199.7 229.4,160.3 233.8,153.2 235.2,158.5 235.2,199.7" fill="#3e6fff"/><polygon points="60.8,286.1 60.8,236.8 62.3,233.7 63.3,236.0 63.3,286.1" fill="#3e6fff"/><polygon points="77.5,268.8 77.5,237.4 80.7,231.1 82.8,235.8 82.8,268.8" fill="#327cfc"/><polygon points="262.0,166.3 262.0,148.9 262.5,146.4 264.1,148.2 264.1,166.3" fill="#4747eb"/><polygon points="291.3,164.3 291.3,132.3 292.0,130.4 292.9,131.9 292.9,164.3" fill="#484df0"/><polygon points="141.8,234.8 141.8,201.5 143.3,197.1 145.5,200.4 145.5,234.8" fill="#2d8cf3"/><polygon points="52.7,271.0 52.7,246.0 54.8,241.7 56.4,245.0 56.4,271.0" fill="#327cfc"/><polygon points="272.2,161.5 272.2,148.8 272.8,145.5 274.9,148.0 274.9,161.5" fill="#463cde"/><polygon points="184.4,215.1 184.4,172.0 185.5,169.9 186.1,171.5 186.1,215.1" fill="#3e6fff"/><polygon points="103.2,257.3 103.2,227.5 104.3,225.1 105.2,226.9 105.2,257.3" fill="#4747eb"/><polygon points="262.7,168.9 262.7,141.8 266.0,135.3 268.1,140.2 268.1,168.9" fill="#2d8cf3"/><polygon points="183.3,205.4 183.3,189.7 184.3,187.1 185.4,189.0 185.4,205.4" fill="#484df0"/><polygon points="89.1,256.1 89.1,235.4 91.8,229.9 93.8,234.1 93.8,256.1" fill="#4747eb"/><polygon points="128.4,233.5 128.4,215.7 130.6,212.2 131.3,214.8 131.3,233.5" fill="#465efb"/><polygon points="290.5,157.2 290.5,137.4 291.2,134.0 293.3,136.5 293.3,157.2" fill="#463cde"/><polygon points="191.7,200.9 191.7,178.0 193.4,174.0 195.1,177.0 195.1,200.9" fill="#4563fd"/><polygon points="140.5,236.9 140.5,211.9 142.2,204.7 146.5,210.1 146.5,236.9" fill="#4269fe"/><polygon points="47.7,283.1 47.7,252.3 49.6,249.1 50.4,251.5 50.4,283.1" fill="#4269fe"/><polygon points="193.2,209.4 193.2,179.6 194.8,175.6 196.6,178.6 196.6,209.4" fill="#484df0"/><polygon points="260.6,183.6 260.6,156.0 262.4,149.5 266.0,154.4 266.0,183.6" fill="#484df0"/><polygon points="205.2,210.9 205.2,177.2 207.6,169.8 211.4,175.3 211.4,210.9" fill="#4741e5"/><polygon points="167.0,221.1 167.0,193.6 167.4,191.5 168.7,193.1 168.7,221.1" fill="#484df0"/><polygon points="126.9,251.0 126.9,210.0 129.8,205.7 130.6,208.9 130.6,251.0" fill="#4269fe"/><polygon points="247.2,174.9 247.2,156.1 250.6,150.9 251.5,154.8 251.5,174.9" fill="#3e6fff"/><polygon points="155.8,225.8 155.8,193.9 157.0,190.9 158.3,193.2 158.3,225.8" fill="#3875fe"/><polygon points="254.6,185.2 254.6,146.9 256.3,142.6 258.1,145.8 258.1,185.2" fill="#327cfc"/><polygon points="179.8,219.4 179.8,186.7 181.0,181.3 184.3,185.4 184.3,219.4" fill="#4852f4"/><polygon points="199.6,215.8 199.6,174.1 200.9,171.9 201.4,173.5 201.4,215.8" fill="#465efb"/><polygon points="288.5,154.7 288.5,140.8 289.7,134.1 294.1,139.1 294.1,154.7" fill="#463cde"/><polygon points="142.9,231.9 142.9,211.3 147.0,205.1 148.1,209.8 148.1,231.9" fill="#4563fd"/><polygon points="163.9,222.2 163.9,195.7 164.8,192.0 166.9,194.8 166.9,222.2" fill="#4563fd"/><polygon points="297.4,158.3 297.4,137.1 298.5,134.4 299.6,136.4 299.6,158.3" fill="#4332cb"/><polygon points="65.6,281.4 65.6,244.9 67.7,241.4 68.5,244.0 68.5,281.4" fill="#465efb"/><polygon points="129.0,237.2 129.0,221.6 132.9,215.5 134.1,220.1 134.1,237.2" fill="#484df0"/><polygon points="121.1,249.5 121.1,216.9 122.1,214.8 122.8,216.3 122.8,249.5" fill="#465efb"/><polygon points="291.4,166.7 291.4,141.5 292.6,138.1 294.2,140.7 294.2,166.7" fill="#4332cb"/><polygon points="183.9,217.3 183.9,179.7 188.0,171.9 190.4,177.7 190.4,217.3" fill="#4269fe"/><polygon points="127.3,252.0 127.3,209.8 130.7,202.7 133.2,208.1 133.2,252.0" fill="#327cfc"/><polygon points="256.1,171.8 256.1,155.1 257.5,151.3 259.3,154.1 259.3,171.8" fill="#4269fe"/><polygon points="53.7,281.9 53.7,242.4 55.6,238.6 56.8,241.4 56.8,281.9" fill="#2f81fa"/><polygon points="119.9,243.2 119.9,226.0 122.9,219.1 125.6,224.2 125.6,243.2" fill="#484df0"/><polygon points="164.0,232.5 164.0,198.8 165.1,195.6 166.6,198.0 166.6,232.5" fill="#465efb"/><polygon points="296.8,157.2 296.8,136.2 297.8,132.0 300.3,135.2 300.3,157.2" fill="#4537d5"/><polygon points="116.7,253.2 116.7,222.5 117.9,218.3 120.1,221.4 120.1,253.2" fill="#484df0"/><polygon points="158.5,221.7 158.5,198.5 160.0,193.1 163.1,197.2 163.1,221.7" fill="#4269fe"/><polygon points="146.9,232.2 146.9,204.4 149.4,199.6 150.9,203.2 150.9,232.2" fill="#3875fe"/><polygon points="214.1,207.9 214.1,174.9 216.7,169.4 218.6,173.5 218.6,207.9" fill="#4852f4"/><polygon points="181.6,218.1 181.6,185.7 183.0,178.5 187.6,183.9 187.6,218.1" fill="#4758f8"/><polygon points="105.2,260.7 105.2,229.3 105.8,226.1 107.9,228.5 107.9,260.7" fill="#4758f8"/><polygon points="245.5,188.4 245.5,152.3 248.1,148.1 249.0,151.3 249.0,188.4" fill="#2f81fa"/><polygon points="88.9,255.9 88.9,233.1 90.4,229.6 91.8,232.2 91.8,255.9" fill="#465efb"/><polygon points="116.1,261.3 116.1,218.3 116.9,216.2 117.8,217.8 117.8,261.3" fill="#4852f4"/><polygon points="149.3,245.4 149.3,199.1 152.3,194.3 153.3,197.9 153.3,245.4" fill="#20a5e3"/><polygon points="70.5,279.1 70.5,244.1 73.2,239.8 74.1,243.1 74.1,279.1" fill="#484df0"/><polygon points="54.4,285.5 54.4,244.7 55.9,240.7 57.7,243.7 57.7,285.5" fill="#20a5e3"/><polygon points="254.6,175.1 254.6,153.6 257.0,149.2 258.3,152.5 258.3,175.1" fill="#3875fe"/><polygon points="263.9,184.5 263.9,158.8 265.9,151.6 270.0,157.0 270.0,184.5" fill="#465efb"/><polygon points="86.5,274.2 86.5,234.9 88.3,229.3 91.2,233.5 91.2,274.2" fill="#465efb"/><polygon points="144.3,239.4 144.3,201.2 145.0,198.7 146.3,200.6 146.3,239.4" fill="#327cfc"/><polygon points="71.3,274.4 71.3,248.8 72.5,245.3 74.3,247.9 74.3,274.4" fill="#4563fd"/><polygon points="181.5,224.2 181.5,189.7 184.1,182.1 187.8,187.8 187.8,224.2" fill="#4852f4"/><polygon points="277.3,162.3 277.3,143.4 278.5,141.2 279.1,142.9 279.1,162.3" fill="#484df0"/><polygon points="55.0,283.2 55.0,255.3 58.4,249.6 59.8,253.9 59.8,283.2" fill="#4269fe"/><polygon points="289.9,171.7 289.9,145.8 291.4,141.1 293.8,144.6 293.8,171.7" fill="#4537d5"/><polygon points="135.0,234.5 135.0,215.1 137.3,211.6 138.0,214.2 138.0,234.5" fill="#4269fe"/><polygon points="118.3,241.7 118.3,225.4 121.8,219.8 123.0,224.0 123.0,241.7" fill="#484df0"/><polygon points="258.5,178.2 258.5,157.5 259.6,151.6 263.4,156.0 263.4,178.2" fill="#2f81fa"/><polygon points="222.3,206.2 222.3,173.9 223.8,167.1 227.8,172.2 227.8,206.2" fill="#3875fe"/><polygon points="83.1,262.6 83.1,236.3 85.3,232.0 86.7,235.2 86.7,262.6" fill="#4758f8"/><polygon points="204.1,201.7 204.1,177.8 205.3,175.3 206.2,177.2 206.2,201.7" fill="#4563fd"/><polygon points="154.2,241.2 154.2,203.0 158.0,195.4 160.4,201.1 160.4,241.2" fill="#2f81fa"/><polygon points="146.8,237.1 146.8,210.8 150.3,203.5 152.9,209.0 152.9,237.1" fill="#327cfc"/><polygon points="174.7,220.0 174.7,197.8 176.3,195.0 177.0,197.1 177.0,220.0" fill="#465efb"/><polygon points="133.3,251.0 133.3,218.3 138.2,210.8 139.5,216.4 139.5,251.0" fill="#3875fe"/><polygon points="183.6,220.3 183.6,196.6 185.2,193.0 186.5,195.7 186.5,220.3" fill="#463cde"/><polygon points="110.7,256.1 110.7,228.4 112.4,220.7 117.1,226.5 117.1,256.1" fill="#465efb"/><polygon points="205.5,219.7 205.5,172.5 206.6,169.8 207.7,171.8 207.7,219.7" fill="#3e6fff"/><polygon points="295.4,166.5 295.4,137.3 296.8,134.6 297.7,136.7 297.7,166.5" fill="#463cde"/><polygon points="281.7,164.5 281.7,144.9 283.4,140.6 285.4,143.8 285.4,164.5" fill="#4741e5"/><polygon points="239.4,183.9 239.4,162.6 240.1,159.0 242.4,161.7 242.4,183.9" fill="#2e87f7"/><polygon points="169.4,217.9 169.4,204.4 171.3,198.0 174.8,202.8 174.8,217.9" fill="#484df0"/><polygon points="152.2,238.7 152.2,201.9 153.8,199.2 154.6,201.2 154.6,238.7" fill="#2f81fa"/><polygon points="99.8,262.7 99.8,228.8 100.4,227.0 101.3,228.4 101.3,262.7" fill="#4758f8"/><polygon points="155.6,241.8 155.6,205.2 157.3,198.8 160.9,203.6 160.9,241.8" fill="#2e87f7"/><polygon points="79.5,271.7 79.5,240.8 81.7,237.4 82.3,240.0 82.3,271.7" fill="#3875fe"/><polygon points="115.0,265.4 115.0,235.7 116.5,230.3 119.5,234.3 119.5,265.4" fill="#4741e5"/><polygon points="220.3,212.9 220.3,168.3 221.5,166.4 221.9,167.8 221.9,212.9" fill="#465efb"/><polygon points="223.9,202.7 223.9,174.1 226.6,169.5 227.8,172.9 227.8,202.7" fill="#484df0"/><polygon points="150.7,242.5 150.7,214.8 154.3,209.4 155.2,213.4 155.2,242.5" fill="#4563fd"/><polygon points="278.0,164.4 278.0,154.0 280.9,148.6 282.5,152.7 282.5,164.4" fill="#4332cb"/><polygon points="172.3,237.1 172.3,203.4 173.5,201.4 174.0,202.9 174.0,237.1" fill="#463cde"/><polygon points="288.8,171.3 288.8,137.3 290.1,135.0 290.7,136.7 290.7,171.3" fill="#4758f8"/><polygon points="80.3,267.1 80.3,250.0 81.3,244.0 85.4,248.5 85.4,267.1" fill="#484df0"/><polygon points="76.5,278.0 76.5,243.8 78.5,240.5 79.3,243.0 79.3,278.0" fill="#484df0"/><polygon points="62.5,285.9 62.5,247.9 64.1,243.2 66.5,246.7 66.5,285.9" fill="#327cfc"/><polygon points="280.5,174.5 280.5,153.2 281.9,150.1 283.1,152.4 283.1,174.5" fill="#4332cb"/><polygon points="293.1,173.0 293.1,148.2 294.7,142.7 297.6,146.8 297.6,173.0" fill="#4537d5"/><polygon points="210.2,202.8 210.2,176.0 211.3,171.4 214.1,174.9 214.1,202.8" fill="#4563fd"/><polygon points="272.8,183.6 272.8,153.7 275.1,148.3 277.2,152.3 277.2,183.6" fill="#484df0"/><polygon points="273.3,166.5 273.3,152.2 275.4,145.8 278.6,150.6 278.6,166.5" fill="#4758f8"/><polygon points="51.9,279.8 51.9,258.4 55.7,252.1 57.1,256.9 57.1,279.8" fill="#327cfc"/><polygon points="258.2,189.8 258.2,153.6 259.5,149.6 261.5,152.6 261.5,189.8" fill="#4269fe"/><polygon points="158.7,232.9 158.7,204.2 159.8,198.8 163.2,202.8 163.2,232.9" fill="#4269fe"/><polygon points="143.0,250.0 143.0,220.0 144.2,213.8 148.1,218.4 148.1,250.0" fill="#484df0"/><polygon points="109.9,267.0 109.9,236.0 111.3,232.4 112.8,235.1 112.8,267.0" fill="#4747eb"/><polygon points="217.6,210.8 217.6,178.2 218.4,176.3 219.2,177.7 219.2,210.8" fill="#4852f4"/><polygon points="183.9,223.3 183.9,198.0 186.7,192.1 188.8,196.5 188.8,223.3" fill="#4741e5"/><polygon points="187.1,230.4 187.1,188.9 188.4,186.1 189.5,188.2 189.5,230.4" fill="#4852f4"/><polygon points="72.2,271.4 72.2,247.7 73.4,244.1 75.2,246.8 75.2,271.4" fill="#465efb"/><polygon points="117.2,262.8 117.2,218.5 118.1,216.5 118.9,218.0 118.9,262.8" fill="#3875fe"/><polygon points="258.2,181.9 258.2,154.3 261.0,148.5 262.9,152.8 262.9,181.9" fill="#327cfc"/><polygon points="256.8,190.9 256.8,163.4 257.9,156.8 262.3,161.8 262.3,190.9" fill="#465efb"/><polygon points="59.2,289.6 59.2,263.3 60.8,255.8 65.5,261.4 65.5,289.6" fill="#465efb"/><polygon points="56.9,291.1 56.9,257.7 61.9,249.9 63.3,255.7 63.3,291.1" fill="#4269fe"/><polygon points="289.0,173.7 289.0,148.7 289.7,145.4 291.8,147.9 291.8,173.7" fill="#4852f4"/><polygon points="274.5,180.5 274.5,152.5 275.8,149.8 276.7,151.8 276.7,180.5" fill="#4741e5"/><polygon points="56.9,283.9 56.9,254.6 59.0,247.9 62.5,252.9 62.5,283.9" fill="#3875fe"/><polygon points="171.8,226.6 171.8,205.1 172.2,202.8 173.7,204.5 173.7,226.6" fill="#4747eb"/><polygon points="160.3,229.3 160.3,203.7 162.7,200.0 163.5,202.8 163.5,229.3" fill="#3e6fff"/><polygon points="267.4,182.9 267.4,149.2 268.3,145.2 270.8,148.2 270.8,182.9" fill="#4269fe"/><polygon points="298.5,163.2 298.5,140.5 299.1,137.6 300.9,139.8 300.9,163.2" fill="#4747eb"/><polygon points="234.4,208.0 234.4,174.2 235.5,170.0 237.9,173.2 237.9,208.0" fill="#4741e5"/><polygon points="286.9,178.6 286.9,142.3 288.2,140.1 288.7,141.7 288.7,178.6" fill="#4852f4"/><polygon points="146.0,240.5 146.0,218.9 149.1,211.8 151.9,217.1 151.9,240.5" fill="#4758f8"/><polygon points="271.9,185.3 271.9,151.6 273.4,148.1 274.9,150.7 274.9,185.3" fill="#4852f4"/><polygon points="222.8,214.0 222.8,176.1 226.8,169.2 228.6,174.4 228.6,214.0" fill="#4563fd"/><polygon points="292.6,177.4 292.6,149.9 296.7,142.4 298.9,148.1 298.9,177.4" fill="#463cde"/><polygon points="297.6,168.8 297.6,141.7 298.4,137.2 301.3,140.6 301.3,168.8" fill="#4563fd"/><polygon points="66.8,291.1 66.8,250.7 68.0,245.4 71.3,249.4 71.3,291.1" fill="#4269fe"/><polygon points="209.7,204.6 209.7,180.6 210.2,178.7 211.2,180.2 211.2,204.6" fill="#4758f8"/><polygon points="223.3,213.9 223.3,181.2 224.9,173.5 229.7,179.3 229.7,213.9" fill="#4747eb"/><polygon points="266.3,189.6 266.3,155.9 267.3,154.0 268.0,155.5 268.0,189.6" fill="#4563fd"/><polygon points="225.4,201.9 225.4,175.1 229.1,168.8 230.7,173.6 230.7,201.9" fill="#465efb"/><polygon points="236.9,199.7 236.9,173.6 237.9,169.0 240.8,172.4 240.8,199.7" fill="#4741e5"/><polygon points="272.1,177.1 272.1,154.8 275.0,150.3 275.8,153.7 275.8,177.1" fill="#484df0"/><polygon points="75.1,284.9 75.1,253.2 77.5,245.7 81.4,251.3 81.4,284.9" fill="#4563fd"/><polygon points="300.6,160.8 300.6,145.2 301.0,143.4 302.1,144.7 302.1,160.8" fill="#4537d5"/><polygon points="252.5,191.6 252.5,162.3 254.2,157.4 256.6,161.0 256.6,191.6" fill="#4852f4"/><polygon points="189.8,230.4 189.8,189.1 190.9,185.9 192.4,188.3 192.4,230.4" fill="#465efb"/><polygon points="177.5,222.7 177.5,201.0 178.9,194.2 183.2,199.3 183.2,222.7" fill="#4269fe"/><polygon points="179.2,226.8 179.2,201.2 179.7,199.1 180.9,200.7 180.9,226.8" fill="#484df0"/><polygon points="160.5,235.4 160.5,213.2 161.2,209.6 163.6,212.3 163.6,235.4" fill="#4852f4"/><polygon points="105.0,262.3 105.0,246.9 106.0,241.3 109.6,245.5 109.6,262.3" fill="#4741e5"/><polygon points="135.1,258.4 135.1,224.9 139.9,217.7 141.2,223.1 141.2,258.4" fill="#4758f8"/><polygon points="104.5,271.3 104.5,242.1 105.5,237.4 108.4,240.9 108.4,271.3" fill="#484df0"/><polygon points="84.4,282.2 84.4,253.6 87.0,248.0 89.1,252.2 89.1,282.2" fill="#484df0"/><polygon points="100.3,275.6 100.3,241.4 101.2,238.2 102.9,240.6 102.9,275.6" fill="#4852f4"/><polygon points="162.7,227.9 162.7,213.9 165.1,206.1 169.1,211.9 169.1,227.9" fill="#4852f4"/><polygon points="268.4,176.3 268.4,162.5 269.7,159.0 271.3,161.6 271.3,176.3" fill="#4747eb"/><polygon points="145.2,241.9 145.2,216.2 146.4,210.8 149.7,214.9 149.7,241.9" fill="#484df0"/><polygon points="271.3,179.8 271.3,155.3 273.2,151.4 274.6,154.3 274.6,179.8" fill="#3e6fff"/><polygon points="163.8,237.7 163.8,203.2 165.2,200.1 166.3,202.4 166.3,237.7" fill="#3875fe"/><polygon points="58.3,298.4 58.3,254.0 60.0,251.4 60.5,253.4 60.5,298.4" fill="#4269fe"/><polygon points="80.6,269.6 80.6,252.7 84.2,245.5 86.6,250.9 86.6,269.6" fill="#465efb"/><polygon points="166.3,238.0 166.3,210.0 167.3,207.0 168.8,209.3 168.8,238.0" fill="#484df0"/><polygon points="70.2,286.4 70.2,265.1 71.4,258.5 75.6,263.4 75.6,286.4" fill="#4747eb"/><polygon points="158.1,241.4 158.1,220.3 162.3,213.5 163.7,218.6 163.7,241.4" fill="#4741e5"/><polygon points="183.4,221.5 183.4,203.7 186.4,197.5 188.6,202.1 188.6,221.5" fill="#4758f8"/><polygon points="292.3,182.2 292.3,152.5 293.5,150.2 294.2,151.9 294.2,182.2" fill="#422ec0"/><polygon points="75.9,285.0 75.9,260.0 79.4,252.8 81.8,258.2 81.8,285.0" fill="#465efb"/><polygon points="131.5,259.4 131.5,228.4 134.4,223.6 135.5,227.2 135.5,259.4" fill="#4747eb"/><polygon points="200.2,218.7 200.2,195.1 203.1,187.8 206.4,193.3 206.4,218.7" fill="#4563fd"/><polygon points="250.8,193.9 250.8,172.9 254.2,167.2 255.5,171.5 255.5,193.9" fill="#4563fd"/><polygon points="101.8,270.7 101.8,241.3 103.8,235.6 106.6,239.9 106.6,270.7" fill="#465efb"/><polygon points="82.3,276.5 82.3,252.4 84.6,244.9 88.6,250.5 88.6,276.5" fill="#4852f4"/><polygon points="287.1,168.9 287.1,157.2 289.6,152.8 290.8,156.1 290.8,168.9" fill="#463cde"/><polygon points="251.5,185.9 251.5,173.0 252.0,170.8 253.3,172.4 253.3,185.9" fill="#4332cb"/><polygon points="174.9,225.1 174.9,202.0 175.9,199.0 177.4,201.2 177.4,225.1" fill="#4563fd"/><polygon points="70.3,284.2 70.3,253.9 72.1,249.5 74.0,252.8 74.0,284.2" fill="#465efb"/><polygon points="225.6,211.0 225.6,185.4 226.2,182.1 228.4,184.6 228.4,211.0" fill="#4852f4"/><polygon points="276.5,191.4 276.5,162.2 280.1,156.7 281.1,160.8 281.1,191.4" fill="#4747eb"/><polygon points="119.7,252.1 119.7,233.6 121.0,226.8 125.4,231.9 125.4,252.1" fill="#4269fe"/><polygon points="225.8,197.6 225.8,187.8 229.3,181.2 231.3,186.2 231.3,197.6" fill="#4758f8"/><polygon points="226.1,205.4 226.1,177.9 227.6,173.2 230.0,176.7 230.0,205.4" fill="#465efb"/><polygon points="132.2,265.8 132.2,224.8 133.5,222.7 134.0,224.3 134.0,265.8" fill="#4758f8"/><polygon points="79.6,271.8 79.6,255.0 80.7,250.9 83.0,254.0 83.0,271.8" fill="#4758f8"/><polygon points="154.0,251.0 154.0,213.9 155.7,210.9 156.5,213.1 156.5,251.0" fill="#4758f8"/><polygon points="291.5,177.9 291.5,148.3 292.9,146.0 293.4,147.8 293.4,177.9" fill="#4852f4"/><polygon points="269.9,195.8 269.9,162.4 270.9,156.6 274.7,161.0 274.7,195.8" fill="#4852f4"/><polygon points="70.4,291.4 70.4,255.6 72.3,247.8 76.9,253.6 76.9,291.4" fill="#3e6fff"/><polygon points="88.1,279.9 88.1,258.2 92.2,250.9 94.2,256.4 94.2,279.9" fill="#4747eb"/><polygon points="167.8,231.2 167.8,205.7 169.9,202.3 170.7,204.9 170.7,231.2" fill="#4563fd"/><polygon points="299.3,179.9 299.3,150.9 301.0,148.1 301.7,150.2 301.7,179.9" fill="#4741e5"/><polygon points="104.0,263.8 104.0,244.2 105.5,240.4 107.2,243.2 107.2,263.8" fill="#484df0"/><polygon points="74.9,289.3 74.9,263.2 76.2,261.1 76.6,262.7 76.6,289.3" fill="#463cde"/><polygon points="201.1,215.8 201.1,193.3 202.0,190.6 203.4,192.7 203.4,215.8" fill="#4269fe"/><polygon points="264.4,181.7 264.4,167.2 266.3,160.1 270.3,165.4 270.3,181.7" fill="#484df0"/><polygon points="268.5,193.7 268.5,166.6 269.7,159.8 274.2,164.9 274.2,193.7" fill="#484df0"/><polygon points="304.1,174.4 304.1,155.9 306.3,148.1 310.6,153.9 310.6,174.4" fill="#463cde"/><polygon points="66.1,281.6 66.1,269.9 70.7,262.5 72.3,268.1 72.3,281.6" fill="#484df0"/><polygon points="202.8,219.1 202.8,195.1 205.7,190.5 206.6,193.9 206.6,219.1" fill="#4758f8"/><polygon points="163.0,247.0 163.0,209.6 166.0,204.8 167.0,208.4 167.0,247.0" fill="#4852f4"/><polygon points="143.3,244.0 143.3,224.2 145.2,220.4 146.5,223.3 146.5,244.0" fill="#4747eb"/><polygon points="184.7,225.7 184.7,198.2 185.4,195.2 187.2,197.4 187.2,225.7" fill="#4269fe"/><polygon points="99.3,270.6 99.3,251.2 100.5,246.5 103.3,250.1 103.3,270.6" fill="#484df0"/><polygon points="74.3,277.5 74.3,266.8 75.7,259.3 80.5,264.9 80.5,277.5" fill="#4852f4"/><polygon points="162.9,245.9 162.9,217.8 164.2,214.9 165.3,217.1 165.3,245.9" fill="#4741e5"/><polygon points="263.6,200.2 263.6,171.5 267.4,163.8 270.1,169.6 270.1,200.2" fill="#4537d5"/><polygon points="142.9,255.2 142.9,224.9 145.6,217.5 149.0,223.1 149.0,255.2" fill="#465efb"/><polygon points="108.1,267.2 108.1,242.2 110.0,236.9 112.5,240.9 112.5,267.2" fill="#484df0"/><polygon points="276.4,189.0 276.4,161.6 278.0,158.4 279.1,160.8 279.1,189.0" fill="#4741e5"/><polygon points="217.0,224.2 217.0,181.7 219.2,178.1 220.0,180.8 220.0,224.2" fill="#2f81fa"/><polygon points="222.7,215.3 222.7,187.7 223.2,185.3 224.7,187.1 224.7,215.3" fill="#484df0"/><polygon points="196.4,234.5 196.4,195.3 198.3,191.6 199.4,194.4 199.4,234.5" fill="#4758f8"/><polygon points="244.9,203.5 244.9,179.1 246.8,172.7 250.3,177.5 250.3,203.5" fill="#4563fd"/><polygon points="128.1,264.5 128.1,234.7 131.1,228.3 133.4,233.1 133.4,264.5" fill="#4563fd"/><polygon points="112.0,264.0 112.0,242.8 113.0,237.5 116.4,241.4 116.4,264.0" fill="#4758f8"/><polygon points="267.4,194.4 267.4,166.5 269.6,159.6 273.1,164.8 273.1,194.4" fill="#4747eb"/><polygon points="64.3,295.4 64.3,268.3 65.1,265.9 66.4,267.7 66.4,295.4" fill="#4537d5"/><polygon points="255.6,191.9 255.6,169.0 257.9,165.2 258.7,168.0 258.7,191.9" fill="#484df0"/><polygon points="226.4,205.1 226.4,185.8 227.0,182.2 229.4,184.9 229.4,205.1" fill="#4852f4"/><polygon points="107.2,263.0 107.2,245.7 108.3,242.8 109.6,244.9 109.6,263.0" fill="#484df0"/><polygon points="191.2,231.2 191.2,203.3 192.2,200.8 193.3,202.7 193.3,231.2" fill="#465efb"/><polygon points="272.0,192.2 272.0,170.5 275.1,162.8 278.4,168.6 278.4,192.2" fill="#4741e5"/><polygon points="84.7,291.2 84.7,258.0 88.0,252.9 88.9,256.7 88.9,291.2" fill="#4852f4"/><polygon points="116.2,267.0 116.2,246.8 119.8,239.3 122.5,244.9 122.5,267.0" fill="#4741e5"/><polygon points="79.6,283.9 79.6,260.6 81.6,255.2 84.0,259.2 84.0,283.9" fill="#4563fd"/><polygon points="201.5,223.2 201.5,195.9 202.2,192.5 204.4,195.1 204.4,223.2" fill="#4758f8"/><polygon points="174.3,235.9 174.3,210.1 175.1,206.6 177.2,209.2 177.2,235.9" fill="#484df0"/><polygon points="232.8,207.8 232.8,189.9 234.3,186.2 235.9,189.0 235.9,207.8" fill="#4747eb"/><polygon points="163.2,243.1 163.2,226.7 165.2,221.5 167.6,225.4 167.6,243.1" fill="#422ec0"/><polygon points="186.6,229.2 186.6,210.7 189.1,206.9 189.8,209.8 189.8,229.2" fill="#4758f8"/><polygon points="181.2,227.2 181.2,207.7 183.0,201.2 186.7,206.1 186.7,227.2" fill="#4563fd"/><polygon points="215.0,217.0 215.0,200.2 218.0,194.9 219.4,198.9 219.4,217.0" fill="#465efb"/><polygon points="305.4,182.9 305.4,154.6 306.7,152.5 307.2,154.1 307.2,182.9" fill="#4537d5"/><polygon points="165.9,237.5 165.9,211.1 166.9,209.0 167.7,210.6 167.7,237.5" fill="#4852f4"/><polygon points="173.0,247.4 173.0,214.5 173.7,211.6 175.4,213.8 175.4,247.4" fill="#463cde"/><polygon points="264.0,198.3 264.0,174.0 265.0,168.8 268.3,172.7 268.3,198.3" fill="#4537d5"/><polygon points="297.9,176.4 297.9,160.8 301.1,153.3 304.2,158.9 304.2,176.4" fill="#484df0"/><polygon points="145.0,260.2 145.0,229.6 146.0,226.3 147.7,228.7 147.7,260.2" fill="#4852f4"/><polygon points="137.9,250.1 137.9,235.3 140.2,228.3 143.7,233.6 143.7,250.1" fill="#4758f8"/><polygon points="70.7,287.5 70.7,270.7 72.4,263.1 77.0,268.8 77.0,287.5" fill="#4747eb"/><polygon points="199.0,218.8 199.0,198.7 201.6,191.2 205.3,196.8 205.3,218.8" fill="#3875fe"/><polygon points="69.2,302.4 69.2,265.2 71.9,259.5 73.9,263.8 73.9,302.4" fill="#4747eb"/><polygon points="198.4,231.9 198.4,204.7 202.2,199.0 203.1,203.3 203.1,231.9" fill="#4758f8"/><polygon points="288.6,188.9 288.6,160.0 290.7,155.9 291.9,158.9 291.9,188.9" fill="#4747eb"/><polygon points="259.1,206.8 259.1,172.6 260.1,170.0 261.2,171.9 261.2,206.8" fill="#4758f8"/><polygon points="126.9,274.2 126.9,247.2 128.4,243.0 130.4,246.2 130.4,274.2" fill="#4537d5"/><polygon points="84.5,295.1 84.5,263.1 85.5,260.4 86.7,262.5 86.7,295.1" fill="#4852f4"/><polygon points="309.4,178.4 309.4,150.6 310.7,147.5 312.0,149.9 312.0,178.4" fill="#484df0"/><polygon points="280.2,182.5 280.2,167.0 283.3,159.5 286.5,165.2 286.5,182.5" fill="#4747eb"/><polygon points="125.2,268.1 125.2,247.8 127.9,240.7 131.1,246.0 131.1,268.1" fill="#4747eb"/><polygon points="190.5,224.5 190.5,213.7 194.4,206.6 196.4,211.9 196.4,224.5" fill="#4747eb"/><polygon points="115.2,275.9 115.2,249.2 115.8,246.0 117.9,248.4 117.9,275.9" fill="#484df0"/><polygon points="311.0,178.9 311.0,149.7 312.0,147.6 312.8,149.2 312.8,178.9" fill="#4747eb"/><polygon points="134.7,257.2 134.7,236.9 137.6,232.5 138.4,235.8 138.4,257.2" fill="#4852f4"/><polygon points="249.6,201.9 249.6,182.5 251.8,178.5 252.9,181.5 252.9,201.9" fill="#4332cb"/><polygon points="309.3,168.8 309.3,154.5 311.9,149.4 313.5,153.2 313.5,168.8" fill="#484df0"/><polygon points="145.9,247.6 145.9,229.0 148.5,224.6 149.5,227.9 149.5,247.6" fill="#4758f8"/><polygon points="126.2,260.5 126.2,244.0 128.9,239.1 130.2,242.8 130.2,260.5" fill="#463cde"/><polygon points="256.6,204.1 256.6,178.7 257.4,176.9 258.1,178.3 258.1,204.1" fill="#422ec0"/><polygon points="179.4,240.9 179.4,215.4 180.6,212.2 182.0,214.6 182.0,240.9" fill="#463cde"/><polygon points="232.5,221.4 232.5,189.8 235.1,185.7 235.9,188.8 235.9,221.4" fill="#4741e5"/><polygon points="138.1,261.3 138.1,234.3 139.2,232.3 139.8,233.8 139.8,261.3" fill="#484df0"/><polygon points="68.2,291.9 68.2,267.5 69.9,262.8 72.0,266.3 72.0,291.9" fill="#4741e5"/><polygon points="68.0,289.7 68.0,267.8 69.6,262.3 72.6,266.4 72.6,289.7" fill="#4852f4"/><polygon points="201.6,224.0 201.6,206.4 205.8,199.3 207.4,204.6 207.4,224.0" fill="#4758f8"/><polygon points="123.9,275.5 123.9,242.8 126.7,238.1 127.7,241.6 127.7,275.5" fill="#4747eb"/><polygon points="62.5,300.6 62.5,278.2 66.1,271.7 67.9,276.6 67.9,300.6" fill="#463cde"/><polygon points="128.2,269.7 128.2,240.4 128.9,237.8 130.3,239.7 130.3,269.7" fill="#4269fe"/><polygon points="129.5,258.8 129.5,235.7 130.4,233.7 131.2,235.2 131.2,258.8" fill="#4758f8"/><polygon points="203.1,225.1 203.1,208.7 204.3,203.6 207.3,207.4 207.3,225.1" fill="#4758f8"/><polygon points="85.6,283.1 85.6,264.8 86.6,259.4 90.1,263.4 90.1,283.1" fill="#484df0"/><polygon points="116.3,264.2 116.3,250.6 116.9,248.5 118.1,250.1 118.1,264.2" fill="#484df0"/><polygon points="166.7,255.4 166.7,222.8 168.1,219.6 169.4,222.0 169.4,255.4" fill="#4537d5"/><polygon points="257.2,204.1 257.2,187.8 259.3,180.3 263.5,185.9 263.5,204.1" fill="#3e26a8"/><polygon points="218.0,224.2 218.0,194.9 219.1,192.4 220.1,194.3 220.1,224.2" fill="#4852f4"/><polygon points="190.7,226.3 190.7,209.6 192.3,202.4 196.7,207.8 196.7,226.3" fill="#4269fe"/><polygon points="159.8,246.3 159.8,224.4 163.6,218.6 164.7,222.9 164.7,246.3" fill="#4741e5"/><polygon points="120.8,273.2 120.8,251.3 122.7,247.0 124.4,250.2 124.4,273.2" fill="#4852f4"/><polygon points="100.4,272.7 100.4,258.0 101.3,255.2 102.7,257.3 102.7,272.7" fill="#4852f4"/><polygon points="248.2,208.5 248.2,185.6 250.5,180.5 252.4,184.3 252.4,208.5" fill="#463cde"/><polygon points="166.0,256.1 166.0,227.3 168.6,220.7 171.4,225.6 171.4,256.1" fill="#4332cb"/><polygon points="240.9,210.9 240.9,187.6 242.3,185.3 242.9,187.0 242.9,210.9" fill="#4741e5"/><polygon points="127.9,257.5 127.9,241.5 131.8,234.9 133.4,239.9 133.4,257.5" fill="#4758f8"/><polygon points="226.4,211.3 226.4,195.0 228.3,191.8 229.0,194.2 229.0,211.3" fill="#4747eb"/><polygon points="131.7,254.6 131.7,247.4 134.8,240.1 137.8,245.5 137.8,254.6" fill="#4741e5"/><polygon points="189.9,242.0 189.9,218.2 191.4,214.4 193.1,217.3 193.1,242.0" fill="#463cde"/><polygon points="213.0,232.8 213.0,200.6 215.2,197.2 215.8,199.8 215.8,232.8" fill="#4758f8"/><polygon points="103.2,269.5 103.2,259.9 106.4,254.6 107.6,258.5 107.6,269.5" fill="#4852f4"/><polygon points="85.3,287.8 85.3,264.3 87.1,260.6 88.4,263.4 88.4,287.8" fill="#4747eb"/><polygon points="135.8,271.4 135.8,243.4 136.7,241.4 137.5,242.9 137.5,271.4" fill="#4537d5"/><polygon points="266.0,201.0 266.0,181.3 268.9,176.6 269.9,180.1 269.9,201.0" fill="#402ab4"/><polygon points="309.1,167.1 309.1,157.8 310.9,154.1 312.2,156.9 312.2,167.1" fill="#4563fd"/><polygon points="260.3,200.8 260.3,183.0 263.8,175.5 266.5,181.1 266.5,200.8" fill="#463cde"/><polygon points="228.7,213.5 228.7,197.2 232.5,191.3 233.7,195.7 233.7,213.5" fill="#4747eb"/><polygon points="129.8,264.1 129.8,247.0 131.5,240.2 135.4,245.3 135.4,264.1" fill="#4747eb"/><polygon points="258.6,201.6 258.6,183.6 259.2,180.2 261.5,182.8 261.5,201.6" fill="#4332cb"/><polygon points="206.4,228.2 206.4,216.4 208.5,208.7 212.8,214.5 212.8,228.2" fill="#463cde"/><polygon points="260.3,203.8 260.3,184.8 263.7,178.9 265.2,183.3 265.2,203.8" fill="#484df0"/><polygon points="125.4,280.2 125.4,248.3 127.0,243.1 129.8,247.0 129.8,280.2" fill="#463cde"/><polygon points="84.7,282.3 84.7,268.1 86.1,264.0 88.0,267.0 88.0,282.3" fill="#484df0"/><polygon points="76.3,294.4 76.3,275.4 80.4,269.2 81.4,273.9 81.4,294.4" fill="#4537d5"/><polygon points="251.3,210.9 251.3,186.8 252.2,184.6 253.2,186.2 253.2,210.9" fill="#4741e5"/><polygon points="97.8,277.4 97.8,265.5 102.3,258.3 103.8,263.7 103.8,277.4" fill="#4852f4"/><polygon points="74.0,300.2 74.0,280.0 76.7,275.8 77.5,279.0 77.5,300.2" fill="#422ec0"/><polygon points="309.3,181.6 309.3,156.5 312.3,150.4 314.4,155.0 314.4,181.6" fill="#465efb"/><polygon points="303.8,188.4 303.8,160.7 305.1,156.3 307.5,159.6 307.5,188.4" fill="#465efb"/><polygon points="298.6,180.2 298.6,166.8 299.4,163.3 301.4,165.9 301.4,180.2" fill="#4747eb"/><polygon points="171.0,254.8 171.0,228.4 172.7,221.9 176.4,226.8 176.4,254.8" fill="#4332cb"/><polygon points="142.7,262.8 142.7,244.0 144.6,240.6 145.6,243.2 145.6,262.8" fill="#4747eb"/><polygon points="76.0,295.3 76.0,274.5 78.8,267.3 82.0,272.7 82.0,295.3" fill="#4747eb"/><polygon points="181.5,242.7 181.5,224.4 183.5,217.8 187.0,222.8 187.0,242.7" fill="#484df0"/><polygon points="249.6,198.6 249.6,188.2 250.4,185.1 252.1,187.4 252.1,198.6" fill="#4537d5"/><polygon points="111.8,285.2 111.8,251.7 114.1,247.8 115.0,250.7 115.0,285.2" fill="#3e6fff"/><polygon points="221.8,232.2 221.8,202.4 226.0,195.9 227.2,200.8 227.2,232.2" fill="#4747eb"/><polygon points="186.5,250.6 186.5,224.9 189.1,220.9 189.8,223.9 189.8,250.6" fill="#422ec0"/><polygon points="156.7,262.2 156.7,231.2 157.3,228.4 159.0,230.5 159.0,262.2" fill="#484df0"/><polygon points="197.5,240.3 197.5,218.6 201.1,211.1 203.8,216.7 203.8,240.3" fill="#484df0"/><polygon points="256.3,200.0 256.3,188.8 258.2,185.2 259.3,187.9 259.3,200.0" fill="#422ec0"/><polygon points="286.0,192.8 286.0,174.0 288.4,169.1 290.1,172.7 290.1,192.8" fill="#4537d5"/><polygon points="264.6,203.9 264.6,180.7 268.9,173.3 270.8,178.8 270.8,203.9" fill="#4747eb"/><polygon points="209.4,219.4 209.4,214.2 212.3,207.1 215.4,212.4 215.4,219.4" fill="#4758f8"/><polygon points="186.8,233.9 186.8,225.2 188.8,221.7 189.8,224.3 189.8,233.9" fill="#484df0"/><polygon points="132.1,261.5 132.1,247.0 133.2,244.7 134.0,246.4 134.0,261.5" fill="#4852f4"/><polygon points="125.3,279.8 125.3,248.4 127.2,245.4 127.8,247.7 127.8,279.8" fill="#4758f8"/><polygon points="106.1,290.9 106.1,260.7 107.6,253.4 112.2,258.9 112.2,290.9" fill="#4269fe"/><polygon points="295.1,186.9 295.1,166.1 296.5,163.9 296.9,165.5 296.9,186.9" fill="#4741e5"/><polygon points="302.5,187.9 302.5,165.0 303.8,161.7 305.3,164.2 305.3,187.9" fill="#4563fd"/><polygon points="154.4,267.2 154.4,239.4 155.9,232.0 160.6,237.5 160.6,267.2" fill="#4332cb"/><polygon points="189.4,243.8 189.4,223.6 193.0,216.9 194.9,221.9 194.9,243.8" fill="#4332cb"/><polygon points="136.9,266.7 136.9,248.8 140.7,242.6 142.0,247.3 142.0,266.7" fill="#4332cb"/><polygon points="121.1,271.8 121.1,254.0 121.7,251.4 123.3,253.4 123.3,271.8" fill="#4758f8"/><polygon points="150.9,249.7 150.9,241.3 154.0,234.9 156.2,239.7 156.2,249.7" fill="#4852f4"/><polygon points="209.9,237.3 209.9,205.1 211.0,201.6 212.9,204.2 212.9,237.3" fill="#4758f8"/><polygon points="271.8,205.2 271.8,183.6 272.9,179.3 275.5,182.5 275.5,205.2" fill="#4332cb"/><polygon points="107.4,288.8 107.4,267.0 110.1,262.3 111.3,265.8 111.3,288.8" fill="#4852f4"/><polygon points="120.2,268.1 120.2,258.9 123.3,253.6 124.5,257.5 124.5,268.1" fill="#4741e5"/><polygon points="251.0,218.3 251.0,191.5 254.2,185.6 255.9,190.1 255.9,218.3" fill="#4332cb"/><polygon points="259.5,208.9 259.5,185.5 260.1,182.8 261.8,184.8 261.8,208.9" fill="#4537d5"/><polygon points="77.3,305.6 77.3,280.0 78.6,273.3 82.8,278.3 82.8,305.6" fill="#4537d5"/><polygon points="79.8,298.6 79.8,279.6 81.5,272.6 85.6,277.8 85.6,298.6" fill="#4332cb"/><polygon points="232.7,220.2 232.7,201.8 234.8,196.3 237.3,200.4 237.3,220.2" fill="#484df0"/><polygon points="271.1,201.1 271.1,184.3 273.4,177.1 277.1,182.5 277.1,201.1" fill="#4537d5"/><polygon points="305.0,190.0 305.0,167.6 309.3,160.8 310.7,165.9 310.7,190.0" fill="#4741e5"/><polygon points="130.1,270.1 130.1,254.0 132.0,250.1 133.3,253.0 133.3,270.1" fill="#465efb"/><polygon points="315.6,184.8 315.6,162.7 318.0,156.3 320.9,161.1 320.9,184.8" fill="#4747eb"/><polygon points="142.8,261.5 142.8,243.1 143.5,239.9 145.5,242.3 145.5,261.5" fill="#4747eb"/><polygon points="85.2,304.8 85.2,274.8 85.9,272.1 87.4,274.1 87.4,304.8" fill="#463cde"/><polygon points="164.0,262.6 164.0,238.9 165.8,232.3 169.5,237.3 169.5,262.6" fill="#422ec0"/><polygon points="208.4,231.4 208.4,214.1 209.0,211.2 210.9,213.4 210.9,231.4" fill="#484df0"/><polygon points="75.8,302.5 75.8,279.4 78.4,274.6 79.7,278.2 79.7,302.5" fill="#4741e5"/><polygon points="224.1,230.9 224.1,210.0 228.8,202.9 230.1,208.2 230.1,230.9" fill="#484df0"/><polygon points="266.5,207.8 266.5,187.4 267.0,185.5 268.1,186.9 268.1,207.8" fill="#4332cb"/><polygon points="105.5,279.9 105.5,266.6 106.8,261.1 110.0,265.3 110.0,279.9" fill="#4758f8"/><polygon points="278.6,189.2 278.6,174.7 280.6,171.5 281.3,173.9 281.3,189.2" fill="#465efb"/><polygon points="245.9,219.2 245.9,194.3 247.4,191.8 248.0,193.6 248.0,219.2" fill="#4852f4"/><polygon points="140.0,276.1 140.0,248.8 140.7,245.8 142.5,248.1 142.5,276.1" fill="#402ab4"/><polygon points="211.7,238.4 211.7,213.3 213.6,208.6 215.6,212.1 215.6,238.4" fill="#3875fe"/><polygon points="205.6,242.9 205.6,217.1 208.6,211.5 210.3,215.7 210.3,242.9" fill="#4758f8"/><polygon points="295.3,181.1 295.3,172.6 297.4,167.6 299.5,171.3 299.5,181.1" fill="#4332cb"/><polygon points="304.1,187.9 304.1,164.3 307.1,159.6 308.0,163.1 308.0,187.9" fill="#4747eb"/><polygon points="292.5,199.8 292.5,179.8 296.4,172.0 298.9,177.9 298.9,199.8" fill="#402ab4"/><polygon points="92.7,290.7 92.7,274.7 95.5,269.3 97.1,273.3 97.1,290.7" fill="#4537d5"/><polygon points="232.9,231.6 232.9,197.2 234.4,194.6 235.0,196.5 235.0,231.6" fill="#484df0"/><polygon points="196.7,231.6 196.7,220.6 199.8,213.6 202.5,218.9 202.5,231.6" fill="#4741e5"/><polygon points="310.2,176.5 310.2,160.7 311.1,158.2 312.3,160.1 312.3,176.5" fill="#484df0"/><polygon points="226.1,225.6 226.1,205.4 227.4,200.0 230.6,204.1 230.6,225.6" fill="#4741e5"/><polygon points="90.2,295.2 90.2,275.8 92.1,271.7 93.6,274.8 93.6,295.2" fill="#4537d5"/><polygon points="306.9,179.8 306.9,165.6 308.5,161.8 310.2,164.7 310.2,179.8" fill="#4852f4"/><polygon points="167.6,261.6 167.6,232.2 168.5,229.1 170.2,231.4 170.2,261.6" fill="#484df0"/><polygon points="227.7,213.8 227.7,199.7 228.3,196.8 230.2,199.0 230.2,213.8" fill="#4852f4"/><polygon points="233.3,220.8 233.3,200.8 235.4,196.1 237.2,199.6 237.2,220.8" fill="#4741e5"/><polygon points="109.2,286.8 109.2,265.9 112.1,260.9 113.3,264.6 113.3,286.8" fill="#4852f4"/><polygon points="293.3,180.9 293.3,175.3 295.1,169.9 297.8,174.0 297.8,180.9" fill="#463cde"/><polygon points="272.6,202.6 272.6,184.7 273.8,181.9 275.0,184.0 275.0,202.6" fill="#4537d5"/><polygon points="110.1,295.2 110.1,263.2 111.1,261.3 111.7,262.8 111.7,295.2" fill="#4852f4"/><polygon points="166.7,258.7 166.7,237.0 169.6,232.4 170.6,235.8 170.6,258.7" fill="#4537d5"/><polygon points="101.9,285.6 101.9,269.1 103.8,266.0 104.6,268.3 104.6,285.6" fill="#4741e5"/><polygon points="226.5,219.5 226.5,210.7 230.7,204.2 231.9,209.1 231.9,219.5" fill="#4852f4"/><polygon points="234.7,219.9 234.7,200.1 235.6,196.9 237.5,199.3 237.5,219.9" fill="#463cde"/><polygon points="185.0,248.7 185.0,231.5 188.7,223.9 191.3,229.6 191.3,248.7" fill="#463cde"/><polygon points="135.7,280.2 135.7,252.7 139.9,246.0 141.3,251.0 141.3,280.2" fill="#4747eb"/><polygon points="190.7,238.5 190.7,230.4 193.6,223.2 196.7,228.6 196.7,238.5" fill="#4537d5"/><polygon points="170.3,261.6 170.3,235.2 171.8,232.6 172.5,234.6 172.5,261.6" fill="#463cde"/><polygon points="246.9,217.9 246.9,200.9 248.1,194.8 252.1,199.4 252.1,217.9" fill="#4741e5"/><polygon points="225.1,220.8 225.1,208.0 226.0,205.4 227.2,207.3 227.2,220.8" fill="#4747eb"/><polygon points="117.1,280.1 117.1,261.4 118.9,254.6 122.8,259.7 122.8,280.1" fill="#4852f4"/><polygon points="280.4,191.8 280.4,184.9 284.8,178.3 285.9,183.2 285.9,191.8" fill="#4332cb"/><polygon points="184.3,254.3 184.3,230.2 185.9,223.1 190.2,228.4 190.2,254.3" fill="#4747eb"/><polygon points="266.0,198.3 266.0,185.3 266.7,183.1 267.9,184.7 267.9,198.3" fill="#4741e5"/><polygon points="292.5,200.6 292.5,176.0 295.5,171.0 296.6,174.8 296.6,200.6" fill="#463cde"/><polygon points="216.9,236.1 216.9,211.7 220.9,204.6 222.8,209.9 222.8,236.1" fill="#4563fd"/><polygon points="148.9,256.6 148.9,244.4 151.2,240.8 151.9,243.5 151.9,256.6" fill="#4741e5"/><polygon points="187.8,248.9 187.8,226.7 191.3,220.9 192.7,225.2 192.7,248.9" fill="#4563fd"/><polygon points="116.8,289.7 116.8,268.4 117.9,264.7 119.9,267.5 119.9,289.7" fill="#4741e5"/><polygon points="175.0,259.8 175.0,240.0 177.3,232.7 181.1,238.2 181.1,259.8" fill="#422ec0"/><polygon points="214.5,230.1 214.5,214.6 215.7,209.4 218.9,213.3 218.9,230.1" fill="#4758f8"/><polygon points="220.3,234.6 220.3,207.9 221.4,205.8 222.0,207.4 222.0,234.6" fill="#4758f8"/><polygon points="215.0,232.1 215.0,217.7 217.0,210.0 221.4,215.7 221.4,232.1" fill="#4741e5"/><polygon points="116.2,285.4 116.2,265.1 117.0,263.2 117.7,264.6 117.7,285.4" fill="#4741e5"/><polygon points="72.2,311.4 72.2,287.8 75.4,281.4 77.5,286.2 77.5,311.4" fill="#4747eb"/><polygon points="105.1,296.1 105.1,268.2 107.6,264.2 108.5,267.2 108.5,296.1" fill="#4747eb"/><polygon points="180.9,256.1 180.9,237.6 182.7,232.3 185.2,236.2 185.2,256.1" fill="#4741e5"/><polygon points="258.9,220.4 258.9,196.5 259.5,193.7 261.3,195.8 261.3,220.4" fill="#422ec0"/><polygon points="84.9,308.1 84.9,282.7 87.5,275.2 91.1,280.8 91.1,308.1" fill="#4741e5"/><polygon points="113.3,280.0 113.3,270.2 115.0,266.6 116.3,269.3 116.3,280.0" fill="#4537d5"/><polygon points="295.7,184.8 295.7,176.1 298.1,171.7 299.4,175.0 299.4,184.8" fill="#402ab4"/><polygon points="267.0,202.1 267.0,195.0 267.8,190.5 270.8,193.9 270.8,202.1" fill="#402ab4"/><polygon points="107.9,287.8 107.9,268.8 108.4,266.1 110.1,268.2 110.1,287.8" fill="#463cde"/><polygon points="87.1,308.8 87.1,281.6 88.4,275.7 92.0,280.2 92.0,308.8" fill="#465efb"/><polygon points="173.8,252.9 173.8,239.9 178.4,232.2 180.2,238.0 180.2,252.9" fill="#463cde"/><polygon points="97.9,291.0 97.9,278.6 100.5,273.7 102.0,277.4 102.0,291.0" fill="#4537d5"/><polygon points="217.9,241.4 217.9,213.5 220.4,207.7 222.7,212.0 222.7,241.4" fill="#484df0"/><polygon points="130.2,274.7 130.2,258.8 133.6,253.3 134.8,257.5 134.8,274.7" fill="#4563fd"/><polygon points="263.1,218.4 263.1,199.3 266.6,192.8 268.5,197.6 268.5,218.4" fill="#422ec0"/><polygon points="110.1,295.8 110.1,270.8 111.4,265.6 114.4,269.5 114.4,295.8" fill="#4563fd"/><polygon points="108.6,298.5 108.6,269.8 109.2,267.8 110.3,269.3 110.3,298.5" fill="#4332cb"/><polygon points="226.5,232.3 226.5,211.2 227.6,209.4 228.1,210.8 228.1,232.3" fill="#4741e5"/><polygon points="249.9,211.7 249.9,199.8 250.8,194.6 254.2,198.5 254.2,211.7" fill="#422ec0"/><polygon points="213.6,236.4 213.6,220.0 217.9,213.1 219.4,218.3 219.4,236.4" fill="#4747eb"/><polygon points="306.9,180.1 306.9,170.1 308.4,166.9 309.6,169.3 309.6,180.1" fill="#463cde"/><polygon points="262.5,201.3 262.5,193.6 264.1,187.8 267.4,192.2 267.4,201.3" fill="#4537d5"/><polygon points="228.6,238.2 228.6,214.1 230.2,211.5 230.7,213.4 230.7,238.2" fill="#4741e5"/><polygon points="163.0,266.9 163.0,245.7 164.6,241.6 166.3,244.7 166.3,266.9" fill="#402ab4"/><polygon points="219.6,235.3 219.6,215.7 220.2,213.6 221.4,215.2 221.4,235.3" fill="#4537d5"/><polygon points="248.0,222.5 248.0,202.5 250.3,198.4 251.4,201.5 251.4,222.5" fill="#4741e5"/><polygon points="211.7,229.6 211.7,219.4 213.7,213.4 216.7,217.9 216.7,229.6" fill="#463cde"/><polygon points="86.8,294.9 86.8,283.2 88.8,279.5 89.9,282.3 89.9,294.9" fill="#4741e5"/><polygon points="115.8,285.7 115.8,269.9 116.7,268.0 117.5,269.4 117.5,285.7" fill="#4332cb"/><polygon points="198.5,241.1 198.5,225.5 199.2,221.6 201.7,224.5 201.7,241.1" fill="#484df0"/><polygon points="300.7,199.7 300.7,173.1 301.9,170.7 302.8,172.5 302.8,199.7" fill="#463cde"/><polygon points="244.9,221.7 244.9,207.1 247.4,201.6 249.5,205.7 249.5,221.7" fill="#4747eb"/><polygon points="210.2,230.2 210.2,221.5 211.8,217.2 213.8,220.4 213.8,230.2" fill="#463cde"/><polygon points="268.9,201.9 268.9,194.8 269.9,192.3 271.0,194.2 271.0,201.9" fill="#3e26a8"/><polygon points="160.7,273.9 160.7,248.2 163.4,241.1 166.6,246.4 166.6,273.9" fill="#4332cb"/><polygon points="178.1,250.8 178.1,242.5 179.7,238.6 181.4,241.5 181.4,250.8" fill="#4332cb"/><polygon points="155.8,266.0 155.8,249.8 157.6,246.0 159.0,248.9 159.0,266.0" fill="#422ec0"/><polygon points="291.4,206.5 291.4,183.0 294.0,176.8 296.5,181.5 296.5,206.5" fill="#4741e5"/><polygon points="168.9,267.2 168.9,248.0 172.3,241.1 174.6,246.3 174.6,267.2" fill="#4537d5"/><polygon points="167.9,252.8 167.9,246.5 169.1,241.0 172.5,245.1 172.5,252.8" fill="#463cde"/><polygon points="227.7,225.3 227.7,213.9 229.2,207.7 232.9,212.3 232.9,225.3" fill="#4758f8"/><polygon points="196.2,249.3 196.2,231.6 197.1,229.5 198.0,231.1 198.0,249.3" fill="#4537d5"/><polygon points="289.3,198.1 289.3,183.2 290.4,180.2 291.8,182.5 291.8,198.1" fill="#463cde"/><polygon points="111.6,288.1 111.6,272.9 115.4,266.7 116.7,271.3 116.7,288.1" fill="#463cde"/><polygon points="170.7,268.5 170.7,243.6 172.6,239.4 174.2,242.6 174.2,268.5" fill="#4332cb"/><polygon points="264.9,209.6 264.9,199.8 267.7,193.1 270.5,198.1 270.5,209.6" fill="#4332cb"/><polygon points="128.0,272.2 128.0,270.1 128.9,266.6 131.0,269.2 131.0,272.2" fill="#422ec0"/><polygon points="106.3,288.8 106.3,275.9 108.1,273.0 108.8,275.2 108.8,288.8" fill="#463cde"/><polygon points="166.8,255.3 166.8,248.7 168.8,241.6 172.7,246.9 172.7,255.3" fill="#4747eb"/><polygon points="87.8,293.5 87.8,289.7 91.1,284.2 92.3,288.3 92.3,293.5" fill="#4537d5"/><polygon points="154.1,277.2 154.1,252.1 158.2,245.8 159.4,250.5 159.4,277.2" fill="#4741e5"/><polygon points="169.1,261.3 169.1,251.8 170.8,245.2 174.6,250.1 174.6,261.3" fill="#3e26a8"/><polygon points="300.3,185.4 300.3,183.2 305.3,175.5 306.7,181.2 306.7,185.4" fill="#422ec0"/><polygon points="142.5,272.9 142.5,261.5 146.1,255.9 147.2,260.1 147.2,272.9" fill="#4537d5"/><polygon points="310.9,183.9 310.9,173.8 312.4,170.2 313.9,172.9 313.9,183.9" fill="#402ab4"/><polygon points="152.6,272.3 152.6,257.0 154.1,249.4 159.0,255.1 159.0,272.3" fill="#422ec0"/><polygon points="284.1,206.6 284.1,190.2 284.7,187.8 286.2,189.6 286.2,206.6" fill="#422ec0"/><polygon points="312.3,199.5 312.3,176.8 313.2,173.7 315.0,176.0 315.0,199.5" fill="#422ec0"/><polygon points="243.0,215.9 243.0,209.2 245.3,203.8 247.6,207.9 247.6,215.9" fill="#4852f4"/><polygon points="293.4,207.7 293.4,183.0 295.3,178.7 297.0,181.9 297.0,207.7" fill="#4537d5"/><polygon points="144.5,272.2 144.5,260.6 146.9,256.3 148.1,259.5 148.1,272.2" fill="#4741e5"/><polygon points="291.9,198.5 291.9,188.1 293.9,182.8 296.4,186.8 296.4,198.5" fill="#4537d5"/><polygon points="210.6,243.3 210.6,227.3 211.7,222.2 214.8,226.0 214.8,243.3" fill="#484df0"/><polygon points="173.8,271.5 173.8,246.9 176.3,240.8 178.9,245.4 178.9,271.5" fill="#4537d5"/><polygon points="313.7,184.3 313.7,175.8 314.7,171.5 317.3,174.7 317.3,184.3" fill="#3e26a8"/><polygon points="172.2,253.8 172.2,250.2 174.1,245.8 175.8,249.1 175.8,253.8" fill="#4747eb"/><polygon points="122.0,293.6 122.0,273.1 123.2,269.7 124.8,272.2 124.8,293.6" fill="#4332cb"/><polygon points="147.8,272.3 147.8,256.2 148.2,254.0 149.7,255.6 149.7,272.3" fill="#4747eb"/><polygon points="255.3,220.7 255.3,209.0 256.4,202.8 260.5,207.4 260.5,220.7" fill="#484df0"/><polygon points="108.3,287.2 108.3,280.8 109.2,276.0 112.4,279.6 112.4,287.2" fill="#402ab4"/><polygon points="328.0,181.4 328.0,168.9 328.5,166.4 330.0,168.3 330.0,181.4" fill="#4332cb"/><polygon points="203.8,252.0 203.8,233.3 206.8,227.4 208.6,231.8 208.6,252.0" fill="#422ec0"/><polygon points="252.8,228.8 252.8,209.8 254.8,205.8 256.1,208.8 256.1,228.8" fill="#422ec0"/><polygon points="155.5,281.0 155.5,256.1 156.5,253.0 158.1,255.3 158.1,281.0" fill="#463cde"/><polygon points="162.3,266.6 162.3,250.7 162.9,248.1 164.4,250.0 164.4,266.6" fill="#4537d5"/><polygon points="106.6,296.5 106.6,279.5 107.3,276.5 109.1,278.8 109.1,296.5" fill="#4332cb"/><polygon points="82.8,315.6 82.8,294.6 86.3,287.0 89.2,292.7 89.2,315.6" fill="#463cde"/><polygon points="317.0,194.6 317.0,176.2 319.9,169.0 323.0,174.4 323.0,194.6" fill="#463cde"/><polygon points="277.0,204.8 277.0,196.9 280.4,190.3 282.4,195.2 282.4,204.8" fill="#4537d5"/><polygon points="299.4,208.1 299.4,185.2 300.8,180.6 303.2,184.0 303.2,208.1" fill="#463cde"/><polygon points="191.5,260.3 191.5,241.3 193.6,237.5 194.7,240.4 194.7,260.3" fill="#4332cb"/><polygon points="252.7,230.3 252.7,204.7 253.5,201.2 255.6,203.9 255.6,230.3" fill="#4747eb"/><polygon points="158.7,262.4 158.7,255.7 159.0,253.6 160.4,255.1 160.4,262.4" fill="#422ec0"/><polygon points="308.5,192.4 308.5,179.8 311.1,175.9 311.8,178.8 311.8,192.4" fill="#402ab4"/><polygon points="179.7,260.5 179.7,244.6 181.2,241.3 182.5,243.8 182.5,260.5" fill="#4537d5"/><polygon points="213.1,238.9 213.1,227.9 214.2,223.5 216.7,226.8 216.7,238.9" fill="#422ec0"/><polygon points="87.2,298.8 87.2,293.1 90.9,287.3 92.1,291.6 92.1,298.8" fill="#4758f8"/><polygon points="170.2,261.0 170.2,249.5 170.7,247.5 171.9,249.0 171.9,261.0" fill="#4332cb"/><polygon points="184.7,256.0 184.7,243.2 186.4,238.4 188.7,242.0 188.7,256.0" fill="#4332cb"/><polygon points="176.2,253.7 176.2,249.8 177.5,244.8 180.4,248.6 180.4,253.7" fill="#4332cb"/><polygon points="321.5,179.4 321.5,174.7 323.5,170.1 325.3,173.5 325.3,179.4" fill="#402ab4"/><polygon points="88.9,312.1 88.9,295.9 91.5,290.3 93.5,294.5 93.5,312.1" fill="#463cde"/><polygon points="185.0,252.8 185.0,246.5 188.6,239.6 190.7,244.8 190.7,252.8" fill="#422ec0"/><polygon points="213.8,236.3 213.8,228.3 214.7,223.4 217.8,227.1 217.8,236.3" fill="#4332cb"/><polygon points="204.9,244.4 204.9,230.6 205.5,228.4 206.7,230.1 206.7,244.4" fill="#463cde"/><polygon points="184.9,260.2 184.9,243.8 187.1,239.1 188.7,242.6 188.7,260.2" fill="#422ec0"/><polygon points="259.7,229.7 259.7,207.5 261.7,201.4 264.8,206.0 264.8,229.7" fill="#4741e5"/><polygon points="257.0,215.5 257.0,204.6 257.7,202.2 259.0,204.0 259.0,215.5" fill="#463cde"/><polygon points="309.9,200.6 309.9,182.1 312.4,177.6 313.6,181.0 313.6,200.6" fill="#4332cb"/><polygon points="148.3,285.3 148.3,261.6 149.0,259.4 150.2,261.1 150.2,285.3" fill="#484df0"/><polygon points="246.7,223.5 246.7,212.3 248.1,206.5 251.5,210.8 251.5,223.5" fill="#463cde"/><polygon points="178.3,263.9 178.3,248.9 179.5,243.1 183.1,247.5 183.1,263.9" fill="#422ec0"/><polygon points="322.4,196.2 322.4,176.8 323.8,173.9 324.8,176.1 324.8,196.2" fill="#402ab4"/><polygon points="191.1,265.2 191.1,242.8 193.3,237.4 195.6,241.5 195.6,265.2" fill="#4332cb"/><polygon points="250.6,235.1 250.6,215.4 254.2,208.5 256.3,213.7 256.3,235.1" fill="#4537d5"/><polygon points="97.7,310.2 97.7,289.6 98.3,286.4 100.4,288.8 100.4,310.2" fill="#4747eb"/><polygon points="251.9,224.4 251.9,209.3 252.5,206.8 254.0,208.7 254.0,224.4" fill="#4741e5"/><polygon points="242.9,235.9 242.9,215.9 245.1,211.7 246.5,214.9 246.5,235.9" fill="#422ec0"/><polygon points="152.7,275.8 152.7,259.7 153.1,257.1 154.8,259.1 154.8,275.8" fill="#4758f8"/><polygon points="216.4,239.4 216.4,229.9 218.2,226.6 219.2,229.1 219.2,239.4" fill="#3e26a8"/><polygon points="299.6,210.6 299.6,187.9 300.9,184.7 302.3,187.1 302.3,210.6" fill="#463cde"/><polygon points="308.4,197.0 308.4,186.5 310.0,180.0 313.8,184.9 313.8,197.0" fill="#4537d5"/><polygon points="183.3,257.9 183.3,246.4 185.1,243.7 185.5,245.8 185.5,257.9" fill="#4852f4"/><polygon points="109.8,291.8 109.8,282.3 111.3,279.8 111.9,281.7 111.9,291.8" fill="#4537d5"/><polygon points="321.7,185.6 321.7,178.4 323.0,174.9 324.6,177.5 324.6,185.6" fill="#3e26a8"/><polygon points="90.4,302.3 90.4,293.2 90.9,291.1 92.1,292.6 92.1,302.3" fill="#402ab4"/><polygon points="122.6,291.7 122.6,280.2 124.3,272.8 128.7,278.4 128.7,291.7" fill="#3e26a8"/><polygon points="181.5,259.2 181.5,245.9 182.9,243.3 183.7,245.3 183.7,259.2" fill="#4332cb"/><polygon points="265.5,221.1 265.5,205.6 267.2,202.1 268.3,204.7 268.3,221.1" fill="#4747eb"/><polygon points="156.5,286.2 156.5,261.3 157.1,259.0 158.4,260.7 158.4,286.2" fill="#4741e5"/><polygon points="240.5,223.1 240.5,222.7 243.9,216.4 245.8,221.1 245.8,223.1" fill="#3e26a8"/><polygon points="113.7,301.3 113.7,285.1 115.7,281.6 116.6,284.3 116.6,301.3" fill="#3e26a8"/><polygon points="305.8,210.4 305.8,184.1 306.9,181.9 307.7,183.5 307.7,210.4" fill="#463cde"/><polygon points="87.6,308.2 87.6,296.9 88.2,294.1 90.0,296.2 90.0,308.2" fill="#402ab4"/><polygon points="198.4,248.7 198.4,242.7 200.7,238.5 201.9,241.6 201.9,248.7" fill="#422ec0"/><polygon points="193.5,253.9 193.5,245.8 195.4,242.1 196.5,244.9 196.5,253.9" fill="#4537d5"/><polygon points="258.2,230.7 258.2,213.2 260.4,207.8 262.7,211.9 262.7,230.7" fill="#463cde"/><polygon points="135.4,283.3 135.4,276.0 139.1,269.9 140.5,274.5 140.5,283.3" fill="#3e26a8"/><polygon points="175.4,260.8 175.4,255.0 177.8,250.3 179.3,253.8 179.3,260.8" fill="#422ec0"/><polygon points="228.6,239.9 228.6,225.7 230.5,222.4 231.3,224.9 231.3,239.9" fill="#402ab4"/><polygon points="299.0,206.6 299.0,194.8 300.3,188.6 304.3,193.3 304.3,206.6" fill="#4537d5"/></g><polygon points="263.3,36.2 273.7,36.2 268.5,44.7" fill="#ff0000" stroke="#ff0000" stroke-width="0.7" stroke-linejoin="round"/><polygon points="271.8,76.5 282.2,76.5 277.0,85.0" fill="#ff0000" stroke="#ff0000" stroke-width="0.7" stroke-linejoin="round"/><polygon points="264.8,83.5 275.2,83.5 270.0,92.0" fill="#ff0000" stroke="#ff0000" stroke-width="0.7" stroke-linejoin="round"/><polygon points="267.8,96.5 273.5,96.5 270.5,104.5" fill="#ff0000"/><polygon points="247.9,103.3 258.3,103.3 253.1,111.8" fill="#ff0000" stroke="#ff0000" stroke-width="0.7" stroke-linejoin="round"/><polygon points="279.9,115.5 290.3,115.5 285.1,124.0" fill="#ff0000" stroke="#ff0000" stroke-width="0.7" stroke-linejoin="round"/><polygon points="278.4,132.9 288.8,132.9 283.6,141.4" fill="#ff0000" stroke="#ff0000" stroke-width="0.7" stroke-linejoin="round"/><polygon points="274.5,149.8 284.9,149.8 279.7,158.3" fill="#ff0000" stroke="#ff0000" stroke-width="0.7" stroke-linejoin="round"/><polygon points="285.7,146.9 296.1,146.9 290.9,155.4" fill="#ff0000" stroke="#ff0000" stroke-width="0.7" stroke-linejoin="round"/><polygon points="247.0,153.9 257.4,153.9 252.2,162.4" fill="#ff0000" stroke="#ff0000" stroke-width="0.7" stroke-linejoin="round"/><polygon points="293.1,156.2 303.5,156.2 298.3,164.7" fill="#ff0000" stroke="#ff0000" stroke-width="0.7" stroke-linejoin="round"/><polygon points="290.7,162.0 301.1,162.0 295.9,170.5" fill="#ff0000" stroke="#ff0000" stroke-width="0.7" stroke-linejoin="round"/><polygon points="305.5,168.2 315.9,168.2 310.7,176.7" fill="#ff0000" stroke="#ff0000" stroke-width="0.7" stroke-linejoin="round"/><polygon points="217.5,107.9 227.9,107.9 222.7,116.4" fill="#ff0000" stroke="#ff0000" stroke-width="0.7" stroke-linejoin="round"/><polygon points="213.1,132.8 223.5,132.8 218.3,141.3" fill="#ff0000" stroke="#ff0000" stroke-width="0.7" stroke-linejoin="round"/><polygon points="219.5,147.9 229.9,147.9 224.7,156.4" fill="#ff0000" stroke="#ff0000" stroke-width="0.7" stroke-linejoin="round"/><polygon points="208.2,152.6 218.6,152.6 213.4,161.1" fill="#ff0000" stroke="#ff0000" stroke-width="0.7" stroke-linejoin="round"/><polygon points="225.3,177.0 235.7,177.0 230.5,185.5" fill="#ff0000" stroke="#ff0000" stroke-width="0.7" stroke-linejoin="round"/><polygon points="139.3,160.6 149.7,160.6 144.5,169.1" fill="#ff0000" stroke="#ff0000" stroke-width="0.7" stroke-linejoin="round"/><polygon points="130.8,180.4 141.2,180.4 136.0,188.9" fill="#ff0000" stroke="#ff0000" stroke-width="0.7" stroke-linejoin="round"/><polygon points="182.6,158.3 193.0,158.3 187.8,166.8" fill="#ff0000" stroke="#ff0000" stroke-width="0.7" stroke-linejoin="round"/><polygon points="180.5,189.7 190.9,189.7 185.7,198.2" fill="#ff0000" stroke="#ff0000" stroke-width="0.7" stroke-linejoin="round"/><polygon points="149.8,197.1 160.2,197.1 155.0,205.6" fill="#ff0000" stroke="#ff0000" stroke-width="0.7" stroke-linejoin="round"/><polygon points="149.8,204.7 160.2,204.7 155.0,213.2" fill="#ff0000" stroke="#ff0000" stroke-width="0.7" stroke-linejoin="round"/><polygon points="148.6,212.2 159.0,212.2 153.8,220.7" fill="#ff0000" stroke="#ff0000" stroke-width="0.7" stroke-linejoin="round"/><polygon points="44.7,217.9 55.1,217.9 49.9,226.4" fill="#ff0000" stroke="#ff0000" stroke-width="0.7" stroke-linejoin="round"/><polygon points="69.9,215.0 80.3,215.0 75.1,223.5" fill="#ff0000" stroke="#ff0000" stroke-width="0.7" stroke-linejoin="round"/><polygon points="96.1,220.5 106.5,220.5 101.3,229.0" fill="#ff0000" stroke="#ff0000" stroke-width="0.7" stroke-linejoin="round"/><polygon points="98.3,224.5 108.7,224.5 103.5,233.0" fill="#ff0000" stroke="#ff0000" stroke-width="0.7" stroke-linejoin="round"/><polygon points="111.8,228.4 122.2,228.4 117.0,236.9" fill="#ff0000" stroke="#ff0000" stroke-width="0.7" stroke-linejoin="round"/><polygon points="77.3,229.5 87.7,229.5 82.5,238.0" fill="#ff0000" stroke="#ff0000" stroke-width="0.7" stroke-linejoin="round"/><polygon points="84.3,228.5 94.7,228.5 89.5,237.0" fill="#ff0000" stroke="#ff0000" stroke-width="0.7" stroke-linejoin="round"/><polygon points="72.3,236.5 82.7,236.5 77.5,245.0" fill="#ff0000" stroke="#ff0000" stroke-width="0.7" stroke-linejoin="round"/><polygon points="82.1,240.5 92.5,240.5 87.3,249.0" fill="#ff0000" stroke="#ff0000" stroke-width="0.7" stroke-linejoin="round"/><polygon points="100.7,248.2 111.1,248.2 105.9,256.7" fill="#ff0000" stroke="#ff0000" stroke-width="0.7" stroke-linejoin="round"/><polygon points="258.5,277.8 262.0,284.0 266.5,286.5 267.5,307.0 262.0,311.0 252.0,315.5 246.5,315.5 250.0,300.0 254.0,288.0" fill="url(#giA1)"/><polygon points="258.5,278.0 261.0,285.0 261.5,311.0 254.0,313.5 252.5,306.0 255.5,290.0" fill="url(#giA2)"/><polygon points="165.3,325.8 169.1,336.6 172.3,340.4 174.2,334.0 177.3,339.1 178.6,351.8 183.0,351.2 183.7,360.7 175.4,364.5 167.8,366.7 157.7,370.5 153.9,371.8 156.4,356.9 160.2,340.4" fill="url(#giB1)"/><polygon points="165.3,325.8 168.5,335.0 169.0,348.0 165.0,360.0 158.0,366.0 157.5,355.0 160.5,341.0" fill="url(#giB2)"/><polygon points="174.2,334.5 177.0,340.0 177.5,356.0 174.0,362.0 172.5,345.0" fill="#4758f8"/><polygon points="236.0,381.4 239.8,385.2 243.0,399.2 246.2,411.9 243.0,419.5 235.4,424.5 225.2,427.5 222.7,424.5 226.5,411.9 230.3,395.4" fill="url(#giC1)"/><polygon points="236.0,381.6 238.5,390.0 238.0,408.0 232.0,423.0 227.0,424.0 229.5,406.0 233.0,390.0" fill="url(#giC2)"/><polygon points="251.1,271.7 261.5,271.7 256.3,280.2" fill="#ff0000" stroke="#ff0000" stroke-width="0.7" stroke-linejoin="round"/><polygon points="169.0,327.3 179.4,327.3 174.2,335.8" fill="#ff0000" stroke="#ff0000" stroke-width="0.7" stroke-linejoin="round"/><polygon points="229.5,376.6 239.9,376.6 234.7,385.1" fill="#ff0000" stroke="#ff0000" stroke-width="0.7" stroke-linejoin="round"/>
<path d="M96.9,321.3 L356.6,189.7" stroke="#ff0000" stroke-width="4.6" stroke-dasharray="19.6 20.03" stroke-dashoffset="5.66" fill="none"/>
<polygon points="320.6,202.7 327.0,188.0 328.5,201.0" fill="url(#gSpk)"/>
<polygon points="308.0,214.4 315.4,197.5 317.0,212.0" fill="url(#gSpk)"/>
<polygon points="378.7,248.2 385.0,235.5 386.5,246.0" fill="url(#gSpk)"/>
<polygon points="387.0,256.6 393.5,243.0 395.6,254.0" fill="url(#gSpk)"/>
<polygon points="400.0,290.0 406.0,279.0 407.6,289.0" fill="url(#gSpk)"/>
<polygon points="321.0,156.0 325.0,148.0 326.0,158.0" fill="url(#gSpk)"/>
<path d="M483.7,303.4 L224.0,435.0 L28.4,260.1 M28.4,260.1 L28.4,142.3" stroke="#262626" stroke-width="1.2" fill="none"/>
<path d="M28.4,260.1 l-6.5,3.2 M126.2,347.6 l-6.5,3.2 M224.0,435.0 l-6.5,3.2 M483.7,303.4 l5.2,4.7 M418.8,336.3 l5.2,4.7 M353.8,369.2 l5.2,4.7 M288.9,402.1 l5.2,4.7 M224.0,435.0 l5.2,4.7 M28.4,184.4 l-6,-4.5 M28.4,233.9 l-6,-4.5" stroke="#262626" stroke-width="1.2" fill="none"/>
<text x="0.5" y="290.0" font-size="26" text-anchor="start" fill="#3a3a3a" >0</text>
<text x="72.0" y="378.4" font-size="26" text-anchor="start" fill="#3a3a3a" >500</text>
<text x="158.0" y="466.4" font-size="26" text-anchor="start" fill="#3a3a3a" >1000</text>
<text x="497.0" y="338.0" font-size="26" text-anchor="start" fill="#3a3a3a" >0</text>
<text x="431.0" y="370.4" font-size="26" text-anchor="start" fill="#3a3a3a" >90</text>
<text x="365.5" y="404.0" font-size="26" text-anchor="start" fill="#3a3a3a" >180</text>
<text x="301.0" y="437.6" font-size="26" text-anchor="start" fill="#3a3a3a" >270</text>
<text x="237.0" y="469.9" font-size="26" text-anchor="start" fill="#3a3a3a" >360</text>
<g fill="#363636">
<path d="M19.8,445.6 Q21.6,442.9 25,443 L33.1,442.8 M27.4,443.2 Q25.6,447.5 23.8,453.4" stroke="#363636" stroke-width="1.6" fill="none" stroke-linecap="round"/>
<text x="43" y="455.2" font-size="31">[</text>
<text x="50.3" y="453.75" font-size="26" textLength="23.4" lengthAdjust="spacingAndGlyphs">ns</text>
<text x="73.6" y="455.2" font-size="31">]</text>
<text transform="translate(367.5,465.8) scale(1.18,1)" font-size="28" font-style="italic">ϕ</text>
<text x="394" y="466.7" font-size="31">[</text>
<text x="400" y="462.4" font-size="26">°</text>
<text x="409.3" y="466.7" font-size="31">]</text>
</g>
<text x="284" y="29.8" font-size="28" fill="#000">Direct path</text>
<text x="7" y="92" font-size="28" fill="#000">Paths from nearby</text>
<text x="7" y="125" font-size="28" fill="#000">buildings, interior</text>
<text x="289" y="275.4" font-size="28" fill="#fff">Excluded</text>
<text x="289" y="307.6" font-size="28" fill="#fff">distant paths</text>
<rect x="530.7" y="10" width="24.9" height="425.6" fill="url(#cb)" stroke="#262626" stroke-width="1.2"/>
<text x="565.0" y="18.0" font-size="25" text-anchor="start" fill="#3a3a3a" >-100</text>
<text x="565.0" y="103.1" font-size="25" text-anchor="start" fill="#3a3a3a" >-110</text>
<text x="565.0" y="188.2" font-size="25" text-anchor="start" fill="#3a3a3a" >-120</text>
<text x="565.0" y="273.4" font-size="25" text-anchor="start" fill="#3a3a3a" >-130</text>
<text x="565.0" y="358.5" font-size="25" text-anchor="start" fill="#3a3a3a" >-140</text>
<text x="565.0" y="443.6" font-size="25" text-anchor="start" fill="#3a3a3a" >-150</text>
<path d="M555.6,10.0 l-3.5,0 M555.6,95.1 l-3.5,0 M555.6,180.2 l-3.5,0 M555.6,265.4 l-3.5,0 M555.6,350.5 l-3.5,0 M555.6,435.6 l-3.5,0" stroke="#262626" stroke-width="1.2"/>
<text transform="translate(634.6,272.4) rotate(-90)" font-size="25" fill="#262626">Gain [dB]</text>
</svg></body></html>
